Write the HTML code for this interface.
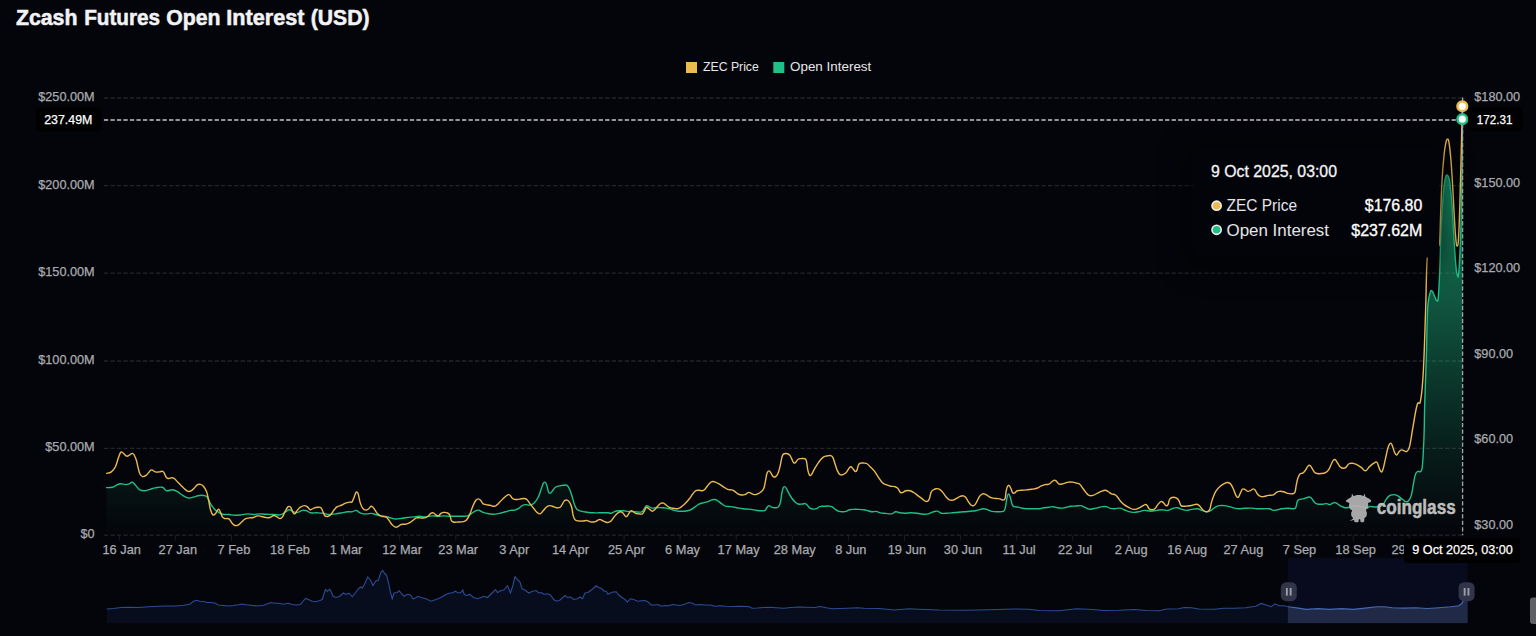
<!DOCTYPE html>
<html lang="en"><head><meta charset="utf-8"><title>Zcash Futures Open Interest (USD)</title>
<style>
html,body{margin:0;padding:0;background:#04050a;}
body{width:1536px;height:636px;overflow:hidden;position:relative;font-family:"Liberation Sans",sans-serif;}
svg{position:absolute;left:0;top:0;display:block}
text{font-family:"Liberation Sans",sans-serif;}
.ax{font-size:12.7px;fill:#a9abb0;stroke:#a9abb0;stroke-width:0.25px;}
.xl{font-size:12.8px;fill:#a9abb0;stroke:#a9abb0;stroke-width:0.25px;text-anchor:middle;}
.lg{font-size:12.3px;fill:#e6e7ea;}
.tag{font-size:13px;fill:#ffffff;stroke:#ffffff;stroke-width:0.25px;}
</style></head><body>
<svg width="1536" height="636" viewBox="0 0 1536 636">
<defs>
<linearGradient id="ga" gradientUnits="userSpaceOnUse" x1="0" y1="119" x2="0" y2="535.3">
<stop offset="0" stop-color="#1fbf85" stop-opacity="0.8"/><stop offset="0.8" stop-color="#1fbf85" stop-opacity="0.125"/><stop offset="1" stop-color="#1fbf85" stop-opacity="0"/></linearGradient>
<clipPath id="selc"><rect x="1287.8" y="558" width="180" height="65.3"/></clipPath>
<clipPath id="unselc"><rect x="100" y="558" width="1187.8" height="65.3"/></clipPath>
<filter id="sh" x="-30%" y="-60%" width="160%" height="220%"><feGaussianBlur stdDeviation="14"/></filter>
</defs>
<rect width="1536" height="636" fill="#04050a"/>
<g font-size="22.4px" font-weight="700" fill="#f2f3f5" stroke="#f2f3f5" stroke-width="0.55" stroke-linejoin="round">
<text x="15.9" y="25.0" textLength="61.6" lengthAdjust="spacingAndGlyphs">Zcash</text>
<text x="84.2" y="25.0" textLength="75.9" lengthAdjust="spacingAndGlyphs">Futures</text>
<text x="166.2" y="25.0" textLength="54.3" lengthAdjust="spacingAndGlyphs">Open</text>
<text x="226.3" y="25.0" textLength="78.1" lengthAdjust="spacingAndGlyphs">Interest</text>
<text x="310.7" y="25.0" textLength="58.8" lengthAdjust="spacingAndGlyphs">(USD)</text>
</g>
<rect x="686" y="62" width="11" height="11" fill="#ecba4f"/>
<text class="lg" x="703" y="71.4" textLength="55.8" lengthAdjust="spacingAndGlyphs">ZEC Price</text>
<rect x="773.3" y="62" width="11" height="11" fill="#1fbf85"/>
<text class="lg" x="790" y="71.4" textLength="81.3" lengthAdjust="spacingAndGlyphs">Open Interest</text>
<line x1="103.9" x2="1463" y1="98.0" y2="98.0" stroke="#23252b" stroke-width="1.3" stroke-dasharray="4.3 2.2105"/>
<line x1="103.9" x2="1463" y1="185.7" y2="185.7" stroke="#23252b" stroke-width="1.3" stroke-dasharray="4.3 2.2105"/>
<line x1="103.9" x2="1463" y1="273.2" y2="273.2" stroke="#23252b" stroke-width="1.3" stroke-dasharray="4.3 2.2105"/>
<line x1="103.9" x2="1463" y1="361.0" y2="361.0" stroke="#23252b" stroke-width="1.3" stroke-dasharray="4.3 2.2105"/>
<line x1="103.9" x2="1463" y1="448.4" y2="448.4" stroke="#23252b" stroke-width="1.3" stroke-dasharray="4.3 2.2105"/>
<line x1="103.9" x2="1463" y1="535.2" y2="535.2" stroke="#23252b" stroke-width="1.3" stroke-dasharray="4.3 2.2105"/>
<text class="ax" x="94.7" y="101.0" text-anchor="end">$250.00M</text>
<text class="ax" x="94.7" y="188.6" text-anchor="end">$200.00M</text>
<text class="ax" x="94.7" y="276.1" text-anchor="end">$150.00M</text>
<text class="ax" x="94.7" y="363.9" text-anchor="end">$100.00M</text>
<text class="ax" x="94.7" y="451.3" text-anchor="end">$50.00M</text>
<text class="ax" x="94.7" y="538.1" text-anchor="end">$0</text>
<text class="ax" x="1474.3" y="101.3">$180.00</text>
<text class="ax" x="1474.3" y="186.8">$150.00</text>
<text class="ax" x="1474.3" y="272.3">$120.00</text>
<text class="ax" x="1474.3" y="357.8">$90.00</text>
<text class="ax" x="1474.3" y="443.3">$60.00</text>
<text class="ax" x="1474.3" y="528.8">$30.00</text>
<line x1="119.3" x2="119.3" y1="535.3" y2="540.6" stroke="#1b1d23" stroke-width="1"/>
<text class="xl" x="121.7" y="554.4">16 Jan</text>
<line x1="175.4" x2="175.4" y1="535.3" y2="540.6" stroke="#1b1d23" stroke-width="1"/>
<text class="xl" x="177.8" y="554.4">27 Jan</text>
<line x1="231.5" x2="231.5" y1="535.3" y2="540.6" stroke="#1b1d23" stroke-width="1"/>
<text class="xl" x="233.9" y="554.4">7 Feb</text>
<line x1="287.6" x2="287.6" y1="535.3" y2="540.6" stroke="#1b1d23" stroke-width="1"/>
<text class="xl" x="290.0" y="554.4">18 Feb</text>
<line x1="343.6" x2="343.6" y1="535.3" y2="540.6" stroke="#1b1d23" stroke-width="1"/>
<text class="xl" x="346.0" y="554.4">1 Mar</text>
<line x1="399.7" x2="399.7" y1="535.3" y2="540.6" stroke="#1b1d23" stroke-width="1"/>
<text class="xl" x="402.1" y="554.4">12 Mar</text>
<line x1="455.8" x2="455.8" y1="535.3" y2="540.6" stroke="#1b1d23" stroke-width="1"/>
<text class="xl" x="458.2" y="554.4">23 Mar</text>
<line x1="511.9" x2="511.9" y1="535.3" y2="540.6" stroke="#1b1d23" stroke-width="1"/>
<text class="xl" x="514.3" y="554.4">3 Apr</text>
<line x1="568.0" x2="568.0" y1="535.3" y2="540.6" stroke="#1b1d23" stroke-width="1"/>
<text class="xl" x="570.4" y="554.4">14 Apr</text>
<line x1="624.1" x2="624.1" y1="535.3" y2="540.6" stroke="#1b1d23" stroke-width="1"/>
<text class="xl" x="626.5" y="554.4">25 Apr</text>
<line x1="680.1" x2="680.1" y1="535.3" y2="540.6" stroke="#1b1d23" stroke-width="1"/>
<text class="xl" x="682.5" y="554.4">6 May</text>
<line x1="736.2" x2="736.2" y1="535.3" y2="540.6" stroke="#1b1d23" stroke-width="1"/>
<text class="xl" x="738.6" y="554.4">17 May</text>
<line x1="792.3" x2="792.3" y1="535.3" y2="540.6" stroke="#1b1d23" stroke-width="1"/>
<text class="xl" x="794.7" y="554.4">28 May</text>
<line x1="848.4" x2="848.4" y1="535.3" y2="540.6" stroke="#1b1d23" stroke-width="1"/>
<text class="xl" x="850.8" y="554.4">8 Jun</text>
<line x1="904.5" x2="904.5" y1="535.3" y2="540.6" stroke="#1b1d23" stroke-width="1"/>
<text class="xl" x="906.9" y="554.4">19 Jun</text>
<line x1="960.6" x2="960.6" y1="535.3" y2="540.6" stroke="#1b1d23" stroke-width="1"/>
<text class="xl" x="963.0" y="554.4">30 Jun</text>
<line x1="1016.7" x2="1016.7" y1="535.3" y2="540.6" stroke="#1b1d23" stroke-width="1"/>
<text class="xl" x="1019.1" y="554.4">11 Jul</text>
<line x1="1072.7" x2="1072.7" y1="535.3" y2="540.6" stroke="#1b1d23" stroke-width="1"/>
<text class="xl" x="1075.1" y="554.4">22 Jul</text>
<line x1="1128.8" x2="1128.8" y1="535.3" y2="540.6" stroke="#1b1d23" stroke-width="1"/>
<text class="xl" x="1131.2" y="554.4">2 Aug</text>
<line x1="1184.9" x2="1184.9" y1="535.3" y2="540.6" stroke="#1b1d23" stroke-width="1"/>
<text class="xl" x="1187.3" y="554.4">16 Aug</text>
<line x1="1241.0" x2="1241.0" y1="535.3" y2="540.6" stroke="#1b1d23" stroke-width="1"/>
<text class="xl" x="1243.4" y="554.4">27 Aug</text>
<line x1="1297.1" x2="1297.1" y1="535.3" y2="540.6" stroke="#1b1d23" stroke-width="1"/>
<text class="xl" x="1299.5" y="554.4">7 Sep</text>
<line x1="1353.2" x2="1353.2" y1="535.3" y2="540.6" stroke="#1b1d23" stroke-width="1"/>
<text class="xl" x="1355.6" y="554.4">18 Sep</text>
<line x1="1409.3" x2="1409.3" y1="535.3" y2="540.6" stroke="#1b1d23" stroke-width="1"/>
<text class="xl" x="1411.7" y="554.4">29 Sep</text>
<path d="M106.63,487.66C107.82,487.58 110.33,487.76 112.36,487.25C114.39,486.75 114.76,485.93 116.45,485.21C118.14,484.49 118.64,483.90 120.54,483.78C122.44,483.65 123.75,484.64 125.65,484.59C127.55,484.55 128.34,484.08 129.74,483.57C131.13,483.06 131.13,481.72 132.40,482.14C133.66,482.56 134.31,484.01 135.87,485.62C137.44,487.22 138.06,488.85 139.96,489.91C141.86,490.97 142.96,490.86 145.07,490.73C147.19,490.60 148.07,489.89 150.19,489.30C152.30,488.71 152.76,488.29 155.30,487.87C157.83,487.44 160.13,486.66 162.45,487.25C164.78,487.84 164.43,490.22 166.54,490.73C168.66,491.24 170.35,489.45 172.68,489.71C175.00,489.96 175.68,490.77 177.79,491.96C179.90,493.14 180.79,494.21 182.90,495.43C185.01,496.66 185.69,497.59 188.01,497.88C190.34,498.18 191.82,497.37 194.15,496.86C196.47,496.36 196.93,495.64 199.26,495.43C201.58,495.22 203.58,495.21 205.39,495.84C207.21,496.47 206.99,496.89 208.05,498.50C209.11,500.10 209.15,501.37 210.50,503.61C211.86,505.85 212.90,507.52 214.59,509.34C216.28,511.15 216.99,511.39 218.68,512.40C220.37,513.42 220.66,513.82 222.77,514.24C224.89,514.67 226.37,514.24 228.91,514.45C231.44,514.66 232.51,515.18 235.04,515.27C237.58,515.35 238.64,515.15 241.18,514.86C243.71,514.56 244.77,513.92 247.31,513.83C249.85,513.75 250.91,514.45 253.44,514.45C255.98,514.45 257.04,513.88 259.58,513.83C262.11,513.79 262.75,514.12 265.71,514.24C268.67,514.37 270.93,514.32 273.89,514.45C276.85,514.57 277.70,515.32 280.03,514.86C282.35,514.39 283.24,513.25 285.14,512.20C287.04,511.14 287.54,509.83 289.23,509.74C290.92,509.66 291.63,511.24 293.32,511.79C295.01,512.34 295.50,512.70 297.41,512.40C299.31,512.11 300.62,510.70 302.52,510.36C304.42,510.02 304.92,510.26 306.61,510.77C308.30,511.27 308.58,512.39 310.70,512.81C312.81,513.23 314.30,512.73 316.83,512.81C319.37,512.90 320.43,512.88 322.96,513.22C325.50,513.56 326.56,514.32 329.10,514.45C331.63,514.57 332.70,514.13 335.23,513.83C337.77,513.54 338.83,513.44 341.37,513.02C343.90,512.59 345.30,512.04 347.50,511.79C349.70,511.54 350.23,512.08 352.00,511.79C353.77,511.49 354.61,510.23 356.09,510.36C357.57,510.48 357.68,511.68 359.16,512.40C360.64,513.12 361.56,513.54 363.25,513.83C364.94,514.13 365.65,513.92 367.34,513.83C369.03,513.75 369.73,513.30 371.42,513.42C373.12,513.55 373.61,513.94 375.51,514.45C377.42,514.95 378.51,515.46 380.63,515.88C382.74,516.30 383.63,516.07 385.74,516.49C387.85,516.91 388.74,517.42 390.85,517.92C392.96,518.43 393.85,518.86 395.96,518.95C398.07,519.03 398.75,518.63 401.07,518.33C403.40,518.04 404.67,517.81 407.21,517.51C409.74,517.22 410.81,517.15 413.34,516.90C415.88,516.65 416.94,516.29 419.48,516.29C422.01,516.29 423.07,516.99 425.61,516.90C428.15,516.82 429.21,516.01 431.74,515.88C434.28,515.75 435.34,516.29 437.88,516.29C440.41,516.29 441.48,515.88 444.01,515.88C446.55,515.88 447.61,516.20 450.15,516.29C452.68,516.37 453.75,516.29 456.28,516.29C458.82,516.29 460.09,516.37 462.42,516.29C464.74,516.20 465.63,516.47 467.53,515.88C469.43,515.29 469.93,514.48 471.62,513.42C473.31,512.37 474.23,511.44 475.71,510.77C477.19,510.09 477.51,509.94 478.77,510.15C480.04,510.36 480.15,511.11 481.84,511.79C483.53,512.47 484.63,512.92 486.95,513.42C489.28,513.93 490.55,514.24 493.09,514.24C495.62,514.24 496.68,513.93 499.22,513.42C501.76,512.92 503.03,512.42 505.35,511.79C507.68,511.16 508.56,510.70 510.47,510.36C512.37,510.02 512.87,510.58 514.56,510.15C516.25,509.73 516.96,509.33 518.65,508.31C520.34,507.30 521.26,506.01 522.73,505.25C524.21,504.49 524.32,504.67 525.80,504.63C527.28,504.59 528.20,505.34 529.89,505.04C531.58,504.75 532.29,504.76 533.98,503.20C535.67,501.64 536.59,500.35 538.07,497.48C539.55,494.60 540.08,492.17 541.14,489.30C542.19,486.42 542.42,485.05 543.18,483.57C543.94,482.09 544.10,481.89 544.82,482.14C545.54,482.39 545.94,482.90 546.66,484.80C547.38,486.70 547.62,489.57 548.29,491.34C548.97,493.12 549.08,493.47 549.93,493.39C550.77,493.30 551.24,492.20 552.38,490.93C553.52,489.67 553.97,488.31 555.45,487.25C556.93,486.20 557.85,486.24 559.54,485.82C561.23,485.40 562.15,485.33 563.63,485.21C565.11,485.08 565.56,484.57 566.70,485.21C567.84,485.84 568.09,486.16 569.15,488.27C570.21,490.39 570.71,492.05 571.81,495.43C572.91,498.81 573.41,501.76 574.47,504.63C575.52,507.51 575.57,507.98 576.92,509.34C578.27,510.69 578.90,510.58 581.01,511.18C583.12,511.77 584.61,511.86 587.14,512.20C589.68,512.54 590.74,512.68 593.28,512.81C595.81,512.94 596.88,512.81 599.41,512.81C601.95,512.81 603.77,512.81 605.55,512.81C607.32,512.81 606.86,512.73 608.00,512.81C609.14,512.90 609.80,513.43 611.07,513.22C612.33,513.01 612.66,512.30 614.13,511.79C615.61,511.28 616.32,510.98 618.22,510.77C620.13,510.56 621.22,510.64 623.34,510.77C625.45,510.89 626.12,511.17 628.45,511.38C630.77,511.59 631.83,511.70 634.58,511.79C637.33,511.87 639.71,512.51 641.74,511.79C643.77,511.07 643.42,509.58 644.40,508.31C645.37,507.05 645.51,505.99 646.44,505.65C647.37,505.32 647.75,506.17 648.89,506.68C650.04,507.18 650.27,507.90 651.96,508.11C653.65,508.32 654.75,507.78 657.07,507.70C659.40,507.62 660.67,507.49 663.21,507.70C665.74,507.91 667.23,508.21 669.34,508.72C671.45,509.23 671.53,509.65 673.43,510.15C675.33,510.66 676.22,510.96 678.54,511.18C680.87,511.39 682.35,511.39 684.68,511.18C687.00,510.96 687.89,510.87 689.79,510.15C691.69,509.43 691.98,508.97 693.88,507.70C695.78,506.43 696.88,505.08 698.99,504.02C701.10,502.96 702.20,503.09 704.10,502.59C706.00,502.08 706.59,502.11 708.19,501.57C709.80,501.02 710.60,500.35 711.87,499.93C713.14,499.51 713.18,499.39 714.33,499.52C715.47,499.65 715.91,499.70 717.39,500.54C718.87,501.39 719.79,502.47 721.48,503.61C723.17,504.75 723.67,505.43 725.57,506.06C727.47,506.70 728.36,506.34 730.68,506.68C733.01,507.02 734.28,507.28 736.82,507.70C739.35,508.12 740.42,508.43 742.95,508.72C745.49,509.02 746.55,508.84 749.09,509.13C751.62,509.43 752.68,509.82 755.22,510.15C757.76,510.49 759.33,510.72 761.35,510.77C763.38,510.81 763.85,511.08 765.04,510.36C766.22,509.64 766.23,508.26 767.08,507.29C767.93,506.32 768.19,505.70 769.12,505.65C770.05,505.61 770.44,506.66 771.58,507.09C772.72,507.51 773.29,507.70 774.65,507.70C776.00,507.70 776.94,508.14 778.12,507.09C779.30,506.03 779.61,505.42 780.37,502.59C781.13,499.76 781.25,496.34 781.80,493.39C782.35,490.43 782.48,489.67 783.03,488.27C783.58,486.88 783.78,486.64 784.46,486.64C785.14,486.64 785.37,486.88 786.30,488.27C787.23,489.67 787.78,491.27 788.96,493.39C790.14,495.50 790.76,496.72 792.03,498.50C793.29,500.27 793.82,500.83 795.09,501.97C796.36,503.12 796.68,503.60 798.16,504.02C799.64,504.44 800.77,504.10 802.25,504.02C803.73,503.93 804.26,503.36 805.32,503.61C806.37,503.86 806.39,504.32 807.36,505.25C808.33,506.18 808.75,507.31 810.02,508.11C811.29,508.91 812.14,509.00 813.50,509.13C814.85,509.26 815.29,509.23 816.56,508.72C817.83,508.21 818.15,507.18 819.63,506.68C821.11,506.17 821.82,506.40 823.72,506.27C825.62,506.14 827.14,505.98 828.83,506.06C830.52,506.15 830.63,506.04 831.90,506.68C833.17,507.31 833.49,508.16 834.96,509.13C836.44,510.10 837.36,510.83 839.05,511.38C840.74,511.93 841.66,511.79 843.14,511.79C844.62,511.79 844.94,511.80 846.21,511.38C847.48,510.96 847.80,510.17 849.28,509.74C850.76,509.32 851.47,509.42 853.37,509.34C855.27,509.25 856.28,509.25 858.48,509.34C860.68,509.42 862.01,509.45 864.00,509.74C865.99,510.04 866.40,510.34 868.09,510.77C869.78,511.19 870.49,511.66 872.18,511.79C873.87,511.92 874.58,511.17 876.27,511.38C877.96,511.59 878.46,512.39 880.36,512.81C882.26,513.23 883.15,513.21 885.47,513.42C887.79,513.64 889.49,514.17 891.60,513.83C893.72,513.50 894.00,512.00 895.69,511.79C897.38,511.58 897.88,512.52 899.78,512.81C901.68,513.11 902.57,513.22 904.89,513.22C907.22,513.22 908.49,512.81 911.03,512.81C913.56,512.81 914.63,512.92 917.16,513.22C919.70,513.52 920.97,514.12 923.30,514.24C925.62,514.37 926.30,514.34 928.41,513.83C930.52,513.33 931.62,512.34 933.52,511.79C935.42,511.24 936.00,510.88 937.61,511.18C939.22,511.47 939.60,512.80 941.29,513.22C942.98,513.64 943.59,513.30 945.79,513.22C947.99,513.14 949.39,513.02 951.92,512.81C954.46,512.60 955.52,512.41 958.06,512.20C960.59,511.99 961.66,512.00 964.19,511.79C966.73,511.58 968.00,511.39 970.33,511.18C972.65,510.96 973.32,511.15 975.44,510.77C977.55,510.39 978.86,509.76 980.55,509.34C982.24,508.91 982.35,508.72 983.62,508.72C984.88,508.72 984.99,508.79 986.68,509.34C988.37,509.88 989.47,510.87 991.80,511.38C994.12,511.89 995.61,511.79 997.93,511.79C1000.25,511.79 1001.56,512.01 1003.04,511.38C1004.52,510.75 1004.37,510.96 1005.09,508.72C1005.80,506.48 1005.97,503.37 1006.52,500.54C1007.07,497.71 1007.20,496.29 1007.74,495.02C1008.29,493.75 1008.58,493.69 1009.18,494.41C1009.77,495.13 1009.97,496.39 1010.61,498.50C1011.24,500.61 1011.48,502.94 1012.24,504.63C1013.00,506.32 1013.02,506.17 1014.29,506.68C1015.56,507.18 1016.69,506.75 1018.38,507.09C1020.07,507.42 1020.56,507.98 1022.47,508.31C1024.37,508.65 1025.25,508.64 1027.58,508.72C1029.90,508.81 1031.18,508.72 1033.71,508.72C1036.25,508.72 1037.73,508.93 1039.85,508.72C1041.96,508.51 1042.03,508.00 1043.94,507.70C1045.84,507.40 1047.15,507.50 1049.05,507.29C1050.95,507.08 1051.45,506.59 1053.14,506.68C1054.83,506.76 1055.33,507.40 1057.23,507.70C1059.13,508.00 1060.44,508.19 1062.34,508.11C1064.24,508.02 1064.74,507.67 1066.43,507.29C1068.12,506.91 1068.62,506.52 1070.52,506.27C1072.42,506.01 1073.52,506.19 1075.63,506.06C1077.74,505.94 1078.84,505.40 1080.74,505.65C1082.64,505.91 1083.14,506.57 1084.83,507.29C1086.52,508.01 1087.23,508.84 1088.92,509.13C1090.61,509.43 1091.11,509.02 1093.01,508.72C1094.91,508.43 1096.22,508.12 1098.12,507.70C1100.02,507.28 1100.52,506.89 1102.21,506.68C1103.90,506.47 1104.61,506.34 1106.30,506.68C1107.99,507.02 1108.70,507.89 1110.39,508.31C1112.08,508.74 1112.49,508.76 1114.48,508.72C1116.47,508.68 1118.01,507.90 1120.00,508.11C1121.99,508.32 1122.40,509.07 1124.09,509.74C1125.78,510.42 1126.28,510.83 1128.18,511.38C1130.08,511.93 1131.18,512.32 1133.29,512.40C1135.40,512.49 1136.08,512.21 1138.40,511.79C1140.73,511.37 1142.00,510.48 1144.54,510.36C1147.07,510.23 1148.14,511.18 1150.67,511.18C1153.21,511.18 1154.48,510.65 1156.81,510.36C1159.13,510.06 1159.59,509.74 1161.92,509.74C1164.24,509.74 1165.73,510.65 1168.05,510.36C1170.38,510.06 1171.26,508.86 1173.16,508.31C1175.06,507.76 1175.56,507.53 1177.25,507.70C1178.94,507.87 1179.44,508.58 1181.34,509.13C1183.24,509.68 1184.34,510.32 1186.45,510.36C1188.57,510.40 1189.24,509.67 1191.57,509.34C1193.89,509.00 1195.59,508.51 1197.70,508.72C1199.81,508.93 1199.89,509.72 1201.79,510.36C1203.69,510.99 1205.00,511.79 1206.90,511.79C1208.80,511.79 1209.30,511.29 1210.99,510.36C1212.68,509.43 1213.39,508.26 1215.08,507.29C1216.77,506.32 1217.27,505.99 1219.17,505.65C1221.07,505.32 1222.17,505.44 1224.28,505.65C1226.39,505.87 1227.28,506.17 1229.39,506.68C1231.51,507.18 1232.60,507.69 1234.50,508.11C1236.41,508.53 1236.48,508.68 1238.59,508.72C1240.71,508.76 1242.19,508.44 1244.73,508.31C1247.26,508.19 1248.33,508.02 1250.86,508.11C1253.40,508.19 1254.46,508.60 1257.00,508.72C1259.53,508.85 1260.60,508.72 1263.13,508.72C1265.67,508.72 1267.15,508.38 1269.27,508.72C1271.38,509.06 1271.66,510.15 1273.35,510.36C1275.04,510.57 1275.75,510.08 1277.44,509.74C1279.13,509.41 1279.42,509.02 1281.53,508.72C1283.65,508.43 1285.13,508.31 1287.67,508.31C1290.20,508.31 1292.11,508.93 1293.80,508.72C1295.49,508.51 1295.13,508.77 1295.85,507.29C1296.57,505.81 1296.64,503.17 1297.28,501.57C1297.91,499.96 1297.73,500.07 1298.91,499.52C1300.10,498.97 1301.31,499.33 1303.00,498.91C1304.69,498.48 1305.61,497.86 1307.09,497.48C1308.57,497.10 1309.10,496.73 1310.16,497.07C1311.22,497.41 1311.36,498.10 1312.20,499.11C1313.05,500.13 1313.19,500.96 1314.25,501.97C1315.31,502.99 1315.63,503.55 1317.32,504.02C1319.01,504.48 1320.53,504.31 1322.43,504.22C1324.33,504.14 1325.04,503.53 1326.52,503.61C1328.00,503.69 1328.32,504.72 1329.58,504.63C1330.85,504.55 1331.51,503.62 1332.65,503.20C1333.79,502.78 1334.05,502.42 1335.11,502.59C1336.16,502.76 1336.58,503.30 1337.76,504.02C1338.95,504.74 1339.35,505.30 1340.83,506.06C1342.31,506.82 1343.23,507.45 1344.92,507.70C1346.61,507.95 1347.32,507.63 1349.01,507.29C1350.70,506.95 1351.41,506.40 1353.10,506.06C1354.79,505.73 1355.50,505.53 1357.19,505.65C1358.88,505.78 1359.59,506.25 1361.28,506.68C1362.97,507.10 1363.89,507.53 1365.37,507.70C1366.85,507.87 1367.48,507.76 1368.43,507.50C1369.39,507.23 1368.46,506.53 1370.00,506.43C1371.54,506.33 1373.66,507.02 1375.89,507.02C1378.13,507.02 1379.18,507.16 1380.80,506.43C1382.43,505.70 1382.53,505.11 1383.75,503.48C1384.97,501.86 1385.48,500.20 1386.70,498.57C1387.91,496.95 1388.22,496.44 1389.64,495.62C1391.06,494.81 1391.95,494.64 1393.57,494.64C1395.20,494.64 1395.88,494.81 1397.50,495.62C1399.12,496.44 1399.80,497.35 1401.43,498.57C1403.05,499.79 1403.94,501.03 1405.36,501.52C1406.78,502.00 1407.09,502.15 1408.30,500.93C1409.52,499.71 1410.15,499.36 1411.25,495.62C1412.35,491.89 1412.71,487.32 1413.61,482.86C1414.50,478.39 1414.64,476.37 1415.57,474.02C1416.51,471.66 1417.07,471.99 1418.12,471.46C1419.18,470.94 1419.83,472.36 1420.68,471.46C1421.53,470.57 1421.68,471.69 1422.25,467.14C1422.82,462.60 1423.02,457.18 1423.43,449.46C1423.83,441.75 1423.95,439.01 1424.21,429.82C1424.48,420.63 1424.27,419.84 1424.70,405.00C1425.13,390.16 1425.70,377.63 1426.30,358.00C1426.90,338.37 1426.88,323.23 1427.60,310.00C1428.32,296.77 1428.89,297.97 1429.80,294.00C1430.71,290.03 1430.95,290.18 1432.00,290.80C1433.05,291.42 1433.89,294.95 1434.90,297.00C1435.91,299.05 1436.20,300.70 1436.90,300.70C1437.60,300.70 1437.72,303.03 1438.30,297.00C1438.88,290.97 1439.12,285.55 1439.70,271.50C1440.28,257.45 1440.34,245.37 1441.10,229.00C1441.86,212.63 1442.51,202.84 1443.40,192.30C1444.29,181.76 1444.57,181.51 1445.40,178.00C1446.23,174.49 1446.53,174.68 1447.40,175.30C1448.27,175.92 1448.67,175.15 1449.60,181.00C1450.53,186.85 1451.01,191.92 1451.90,203.60C1452.79,215.28 1453.07,224.62 1453.90,237.50C1454.73,250.38 1455.16,257.98 1455.90,265.90C1456.64,273.82 1456.92,274.33 1457.50,275.80C1458.08,277.27 1458.16,278.56 1458.70,273.00C1459.24,267.44 1459.58,260.89 1460.10,248.90C1460.62,236.91 1460.79,233.79 1461.20,215.00C1461.61,196.21 1461.83,177.84 1462.10,158.00C1462.37,138.16 1462.42,127.06 1462.50,119.00L1462.50,535.3L106.63,535.3Z" fill="url(#ga)"/>
<path d="M106.63,487.66C107.82,487.58 110.33,487.76 112.36,487.25C114.39,486.75 114.76,485.93 116.45,485.21C118.14,484.49 118.64,483.90 120.54,483.78C122.44,483.65 123.75,484.64 125.65,484.59C127.55,484.55 128.34,484.08 129.74,483.57C131.13,483.06 131.13,481.72 132.40,482.14C133.66,482.56 134.31,484.01 135.87,485.62C137.44,487.22 138.06,488.85 139.96,489.91C141.86,490.97 142.96,490.86 145.07,490.73C147.19,490.60 148.07,489.89 150.19,489.30C152.30,488.71 152.76,488.29 155.30,487.87C157.83,487.44 160.13,486.66 162.45,487.25C164.78,487.84 164.43,490.22 166.54,490.73C168.66,491.24 170.35,489.45 172.68,489.71C175.00,489.96 175.68,490.77 177.79,491.96C179.90,493.14 180.79,494.21 182.90,495.43C185.01,496.66 185.69,497.59 188.01,497.88C190.34,498.18 191.82,497.37 194.15,496.86C196.47,496.36 196.93,495.64 199.26,495.43C201.58,495.22 203.58,495.21 205.39,495.84C207.21,496.47 206.99,496.89 208.05,498.50C209.11,500.10 209.15,501.37 210.50,503.61C211.86,505.85 212.90,507.52 214.59,509.34C216.28,511.15 216.99,511.39 218.68,512.40C220.37,513.42 220.66,513.82 222.77,514.24C224.89,514.67 226.37,514.24 228.91,514.45C231.44,514.66 232.51,515.18 235.04,515.27C237.58,515.35 238.64,515.15 241.18,514.86C243.71,514.56 244.77,513.92 247.31,513.83C249.85,513.75 250.91,514.45 253.44,514.45C255.98,514.45 257.04,513.88 259.58,513.83C262.11,513.79 262.75,514.12 265.71,514.24C268.67,514.37 270.93,514.32 273.89,514.45C276.85,514.57 277.70,515.32 280.03,514.86C282.35,514.39 283.24,513.25 285.14,512.20C287.04,511.14 287.54,509.83 289.23,509.74C290.92,509.66 291.63,511.24 293.32,511.79C295.01,512.34 295.50,512.70 297.41,512.40C299.31,512.11 300.62,510.70 302.52,510.36C304.42,510.02 304.92,510.26 306.61,510.77C308.30,511.27 308.58,512.39 310.70,512.81C312.81,513.23 314.30,512.73 316.83,512.81C319.37,512.90 320.43,512.88 322.96,513.22C325.50,513.56 326.56,514.32 329.10,514.45C331.63,514.57 332.70,514.13 335.23,513.83C337.77,513.54 338.83,513.44 341.37,513.02C343.90,512.59 345.30,512.04 347.50,511.79C349.70,511.54 350.23,512.08 352.00,511.79C353.77,511.49 354.61,510.23 356.09,510.36C357.57,510.48 357.68,511.68 359.16,512.40C360.64,513.12 361.56,513.54 363.25,513.83C364.94,514.13 365.65,513.92 367.34,513.83C369.03,513.75 369.73,513.30 371.42,513.42C373.12,513.55 373.61,513.94 375.51,514.45C377.42,514.95 378.51,515.46 380.63,515.88C382.74,516.30 383.63,516.07 385.74,516.49C387.85,516.91 388.74,517.42 390.85,517.92C392.96,518.43 393.85,518.86 395.96,518.95C398.07,519.03 398.75,518.63 401.07,518.33C403.40,518.04 404.67,517.81 407.21,517.51C409.74,517.22 410.81,517.15 413.34,516.90C415.88,516.65 416.94,516.29 419.48,516.29C422.01,516.29 423.07,516.99 425.61,516.90C428.15,516.82 429.21,516.01 431.74,515.88C434.28,515.75 435.34,516.29 437.88,516.29C440.41,516.29 441.48,515.88 444.01,515.88C446.55,515.88 447.61,516.20 450.15,516.29C452.68,516.37 453.75,516.29 456.28,516.29C458.82,516.29 460.09,516.37 462.42,516.29C464.74,516.20 465.63,516.47 467.53,515.88C469.43,515.29 469.93,514.48 471.62,513.42C473.31,512.37 474.23,511.44 475.71,510.77C477.19,510.09 477.51,509.94 478.77,510.15C480.04,510.36 480.15,511.11 481.84,511.79C483.53,512.47 484.63,512.92 486.95,513.42C489.28,513.93 490.55,514.24 493.09,514.24C495.62,514.24 496.68,513.93 499.22,513.42C501.76,512.92 503.03,512.42 505.35,511.79C507.68,511.16 508.56,510.70 510.47,510.36C512.37,510.02 512.87,510.58 514.56,510.15C516.25,509.73 516.96,509.33 518.65,508.31C520.34,507.30 521.26,506.01 522.73,505.25C524.21,504.49 524.32,504.67 525.80,504.63C527.28,504.59 528.20,505.34 529.89,505.04C531.58,504.75 532.29,504.76 533.98,503.20C535.67,501.64 536.59,500.35 538.07,497.48C539.55,494.60 540.08,492.17 541.14,489.30C542.19,486.42 542.42,485.05 543.18,483.57C543.94,482.09 544.10,481.89 544.82,482.14C545.54,482.39 545.94,482.90 546.66,484.80C547.38,486.70 547.62,489.57 548.29,491.34C548.97,493.12 549.08,493.47 549.93,493.39C550.77,493.30 551.24,492.20 552.38,490.93C553.52,489.67 553.97,488.31 555.45,487.25C556.93,486.20 557.85,486.24 559.54,485.82C561.23,485.40 562.15,485.33 563.63,485.21C565.11,485.08 565.56,484.57 566.70,485.21C567.84,485.84 568.09,486.16 569.15,488.27C570.21,490.39 570.71,492.05 571.81,495.43C572.91,498.81 573.41,501.76 574.47,504.63C575.52,507.51 575.57,507.98 576.92,509.34C578.27,510.69 578.90,510.58 581.01,511.18C583.12,511.77 584.61,511.86 587.14,512.20C589.68,512.54 590.74,512.68 593.28,512.81C595.81,512.94 596.88,512.81 599.41,512.81C601.95,512.81 603.77,512.81 605.55,512.81C607.32,512.81 606.86,512.73 608.00,512.81C609.14,512.90 609.80,513.43 611.07,513.22C612.33,513.01 612.66,512.30 614.13,511.79C615.61,511.28 616.32,510.98 618.22,510.77C620.13,510.56 621.22,510.64 623.34,510.77C625.45,510.89 626.12,511.17 628.45,511.38C630.77,511.59 631.83,511.70 634.58,511.79C637.33,511.87 639.71,512.51 641.74,511.79C643.77,511.07 643.42,509.58 644.40,508.31C645.37,507.05 645.51,505.99 646.44,505.65C647.37,505.32 647.75,506.17 648.89,506.68C650.04,507.18 650.27,507.90 651.96,508.11C653.65,508.32 654.75,507.78 657.07,507.70C659.40,507.62 660.67,507.49 663.21,507.70C665.74,507.91 667.23,508.21 669.34,508.72C671.45,509.23 671.53,509.65 673.43,510.15C675.33,510.66 676.22,510.96 678.54,511.18C680.87,511.39 682.35,511.39 684.68,511.18C687.00,510.96 687.89,510.87 689.79,510.15C691.69,509.43 691.98,508.97 693.88,507.70C695.78,506.43 696.88,505.08 698.99,504.02C701.10,502.96 702.20,503.09 704.10,502.59C706.00,502.08 706.59,502.11 708.19,501.57C709.80,501.02 710.60,500.35 711.87,499.93C713.14,499.51 713.18,499.39 714.33,499.52C715.47,499.65 715.91,499.70 717.39,500.54C718.87,501.39 719.79,502.47 721.48,503.61C723.17,504.75 723.67,505.43 725.57,506.06C727.47,506.70 728.36,506.34 730.68,506.68C733.01,507.02 734.28,507.28 736.82,507.70C739.35,508.12 740.42,508.43 742.95,508.72C745.49,509.02 746.55,508.84 749.09,509.13C751.62,509.43 752.68,509.82 755.22,510.15C757.76,510.49 759.33,510.72 761.35,510.77C763.38,510.81 763.85,511.08 765.04,510.36C766.22,509.64 766.23,508.26 767.08,507.29C767.93,506.32 768.19,505.70 769.12,505.65C770.05,505.61 770.44,506.66 771.58,507.09C772.72,507.51 773.29,507.70 774.65,507.70C776.00,507.70 776.94,508.14 778.12,507.09C779.30,506.03 779.61,505.42 780.37,502.59C781.13,499.76 781.25,496.34 781.80,493.39C782.35,490.43 782.48,489.67 783.03,488.27C783.58,486.88 783.78,486.64 784.46,486.64C785.14,486.64 785.37,486.88 786.30,488.27C787.23,489.67 787.78,491.27 788.96,493.39C790.14,495.50 790.76,496.72 792.03,498.50C793.29,500.27 793.82,500.83 795.09,501.97C796.36,503.12 796.68,503.60 798.16,504.02C799.64,504.44 800.77,504.10 802.25,504.02C803.73,503.93 804.26,503.36 805.32,503.61C806.37,503.86 806.39,504.32 807.36,505.25C808.33,506.18 808.75,507.31 810.02,508.11C811.29,508.91 812.14,509.00 813.50,509.13C814.85,509.26 815.29,509.23 816.56,508.72C817.83,508.21 818.15,507.18 819.63,506.68C821.11,506.17 821.82,506.40 823.72,506.27C825.62,506.14 827.14,505.98 828.83,506.06C830.52,506.15 830.63,506.04 831.90,506.68C833.17,507.31 833.49,508.16 834.96,509.13C836.44,510.10 837.36,510.83 839.05,511.38C840.74,511.93 841.66,511.79 843.14,511.79C844.62,511.79 844.94,511.80 846.21,511.38C847.48,510.96 847.80,510.17 849.28,509.74C850.76,509.32 851.47,509.42 853.37,509.34C855.27,509.25 856.28,509.25 858.48,509.34C860.68,509.42 862.01,509.45 864.00,509.74C865.99,510.04 866.40,510.34 868.09,510.77C869.78,511.19 870.49,511.66 872.18,511.79C873.87,511.92 874.58,511.17 876.27,511.38C877.96,511.59 878.46,512.39 880.36,512.81C882.26,513.23 883.15,513.21 885.47,513.42C887.79,513.64 889.49,514.17 891.60,513.83C893.72,513.50 894.00,512.00 895.69,511.79C897.38,511.58 897.88,512.52 899.78,512.81C901.68,513.11 902.57,513.22 904.89,513.22C907.22,513.22 908.49,512.81 911.03,512.81C913.56,512.81 914.63,512.92 917.16,513.22C919.70,513.52 920.97,514.12 923.30,514.24C925.62,514.37 926.30,514.34 928.41,513.83C930.52,513.33 931.62,512.34 933.52,511.79C935.42,511.24 936.00,510.88 937.61,511.18C939.22,511.47 939.60,512.80 941.29,513.22C942.98,513.64 943.59,513.30 945.79,513.22C947.99,513.14 949.39,513.02 951.92,512.81C954.46,512.60 955.52,512.41 958.06,512.20C960.59,511.99 961.66,512.00 964.19,511.79C966.73,511.58 968.00,511.39 970.33,511.18C972.65,510.96 973.32,511.15 975.44,510.77C977.55,510.39 978.86,509.76 980.55,509.34C982.24,508.91 982.35,508.72 983.62,508.72C984.88,508.72 984.99,508.79 986.68,509.34C988.37,509.88 989.47,510.87 991.80,511.38C994.12,511.89 995.61,511.79 997.93,511.79C1000.25,511.79 1001.56,512.01 1003.04,511.38C1004.52,510.75 1004.37,510.96 1005.09,508.72C1005.80,506.48 1005.97,503.37 1006.52,500.54C1007.07,497.71 1007.20,496.29 1007.74,495.02C1008.29,493.75 1008.58,493.69 1009.18,494.41C1009.77,495.13 1009.97,496.39 1010.61,498.50C1011.24,500.61 1011.48,502.94 1012.24,504.63C1013.00,506.32 1013.02,506.17 1014.29,506.68C1015.56,507.18 1016.69,506.75 1018.38,507.09C1020.07,507.42 1020.56,507.98 1022.47,508.31C1024.37,508.65 1025.25,508.64 1027.58,508.72C1029.90,508.81 1031.18,508.72 1033.71,508.72C1036.25,508.72 1037.73,508.93 1039.85,508.72C1041.96,508.51 1042.03,508.00 1043.94,507.70C1045.84,507.40 1047.15,507.50 1049.05,507.29C1050.95,507.08 1051.45,506.59 1053.14,506.68C1054.83,506.76 1055.33,507.40 1057.23,507.70C1059.13,508.00 1060.44,508.19 1062.34,508.11C1064.24,508.02 1064.74,507.67 1066.43,507.29C1068.12,506.91 1068.62,506.52 1070.52,506.27C1072.42,506.01 1073.52,506.19 1075.63,506.06C1077.74,505.94 1078.84,505.40 1080.74,505.65C1082.64,505.91 1083.14,506.57 1084.83,507.29C1086.52,508.01 1087.23,508.84 1088.92,509.13C1090.61,509.43 1091.11,509.02 1093.01,508.72C1094.91,508.43 1096.22,508.12 1098.12,507.70C1100.02,507.28 1100.52,506.89 1102.21,506.68C1103.90,506.47 1104.61,506.34 1106.30,506.68C1107.99,507.02 1108.70,507.89 1110.39,508.31C1112.08,508.74 1112.49,508.76 1114.48,508.72C1116.47,508.68 1118.01,507.90 1120.00,508.11C1121.99,508.32 1122.40,509.07 1124.09,509.74C1125.78,510.42 1126.28,510.83 1128.18,511.38C1130.08,511.93 1131.18,512.32 1133.29,512.40C1135.40,512.49 1136.08,512.21 1138.40,511.79C1140.73,511.37 1142.00,510.48 1144.54,510.36C1147.07,510.23 1148.14,511.18 1150.67,511.18C1153.21,511.18 1154.48,510.65 1156.81,510.36C1159.13,510.06 1159.59,509.74 1161.92,509.74C1164.24,509.74 1165.73,510.65 1168.05,510.36C1170.38,510.06 1171.26,508.86 1173.16,508.31C1175.06,507.76 1175.56,507.53 1177.25,507.70C1178.94,507.87 1179.44,508.58 1181.34,509.13C1183.24,509.68 1184.34,510.32 1186.45,510.36C1188.57,510.40 1189.24,509.67 1191.57,509.34C1193.89,509.00 1195.59,508.51 1197.70,508.72C1199.81,508.93 1199.89,509.72 1201.79,510.36C1203.69,510.99 1205.00,511.79 1206.90,511.79C1208.80,511.79 1209.30,511.29 1210.99,510.36C1212.68,509.43 1213.39,508.26 1215.08,507.29C1216.77,506.32 1217.27,505.99 1219.17,505.65C1221.07,505.32 1222.17,505.44 1224.28,505.65C1226.39,505.87 1227.28,506.17 1229.39,506.68C1231.51,507.18 1232.60,507.69 1234.50,508.11C1236.41,508.53 1236.48,508.68 1238.59,508.72C1240.71,508.76 1242.19,508.44 1244.73,508.31C1247.26,508.19 1248.33,508.02 1250.86,508.11C1253.40,508.19 1254.46,508.60 1257.00,508.72C1259.53,508.85 1260.60,508.72 1263.13,508.72C1265.67,508.72 1267.15,508.38 1269.27,508.72C1271.38,509.06 1271.66,510.15 1273.35,510.36C1275.04,510.57 1275.75,510.08 1277.44,509.74C1279.13,509.41 1279.42,509.02 1281.53,508.72C1283.65,508.43 1285.13,508.31 1287.67,508.31C1290.20,508.31 1292.11,508.93 1293.80,508.72C1295.49,508.51 1295.13,508.77 1295.85,507.29C1296.57,505.81 1296.64,503.17 1297.28,501.57C1297.91,499.96 1297.73,500.07 1298.91,499.52C1300.10,498.97 1301.31,499.33 1303.00,498.91C1304.69,498.48 1305.61,497.86 1307.09,497.48C1308.57,497.10 1309.10,496.73 1310.16,497.07C1311.22,497.41 1311.36,498.10 1312.20,499.11C1313.05,500.13 1313.19,500.96 1314.25,501.97C1315.31,502.99 1315.63,503.55 1317.32,504.02C1319.01,504.48 1320.53,504.31 1322.43,504.22C1324.33,504.14 1325.04,503.53 1326.52,503.61C1328.00,503.69 1328.32,504.72 1329.58,504.63C1330.85,504.55 1331.51,503.62 1332.65,503.20C1333.79,502.78 1334.05,502.42 1335.11,502.59C1336.16,502.76 1336.58,503.30 1337.76,504.02C1338.95,504.74 1339.35,505.30 1340.83,506.06C1342.31,506.82 1343.23,507.45 1344.92,507.70C1346.61,507.95 1347.32,507.63 1349.01,507.29C1350.70,506.95 1351.41,506.40 1353.10,506.06C1354.79,505.73 1355.50,505.53 1357.19,505.65C1358.88,505.78 1359.59,506.25 1361.28,506.68C1362.97,507.10 1363.89,507.53 1365.37,507.70C1366.85,507.87 1367.48,507.76 1368.43,507.50C1369.39,507.23 1368.46,506.53 1370.00,506.43C1371.54,506.33 1373.66,507.02 1375.89,507.02C1378.13,507.02 1379.18,507.16 1380.80,506.43C1382.43,505.70 1382.53,505.11 1383.75,503.48C1384.97,501.86 1385.48,500.20 1386.70,498.57C1387.91,496.95 1388.22,496.44 1389.64,495.62C1391.06,494.81 1391.95,494.64 1393.57,494.64C1395.20,494.64 1395.88,494.81 1397.50,495.62C1399.12,496.44 1399.80,497.35 1401.43,498.57C1403.05,499.79 1403.94,501.03 1405.36,501.52C1406.78,502.00 1407.09,502.15 1408.30,500.93C1409.52,499.71 1410.15,499.36 1411.25,495.62C1412.35,491.89 1412.71,487.32 1413.61,482.86C1414.50,478.39 1414.64,476.37 1415.57,474.02C1416.51,471.66 1417.07,471.99 1418.12,471.46C1419.18,470.94 1419.83,472.36 1420.68,471.46C1421.53,470.57 1421.68,471.69 1422.25,467.14C1422.82,462.60 1423.02,457.18 1423.43,449.46C1423.83,441.75 1423.95,439.01 1424.21,429.82C1424.48,420.63 1424.27,419.84 1424.70,405.00C1425.13,390.16 1425.70,377.63 1426.30,358.00C1426.90,338.37 1426.88,323.23 1427.60,310.00C1428.32,296.77 1428.89,297.97 1429.80,294.00C1430.71,290.03 1430.95,290.18 1432.00,290.80C1433.05,291.42 1433.89,294.95 1434.90,297.00C1435.91,299.05 1436.20,300.70 1436.90,300.70C1437.60,300.70 1437.72,303.03 1438.30,297.00C1438.88,290.97 1439.12,285.55 1439.70,271.50C1440.28,257.45 1440.34,245.37 1441.10,229.00C1441.86,212.63 1442.51,202.84 1443.40,192.30C1444.29,181.76 1444.57,181.51 1445.40,178.00C1446.23,174.49 1446.53,174.68 1447.40,175.30C1448.27,175.92 1448.67,175.15 1449.60,181.00C1450.53,186.85 1451.01,191.92 1451.90,203.60C1452.79,215.28 1453.07,224.62 1453.90,237.50C1454.73,250.38 1455.16,257.98 1455.90,265.90C1456.64,273.82 1456.92,274.33 1457.50,275.80C1458.08,277.27 1458.16,278.56 1458.70,273.00C1459.24,267.44 1459.58,260.89 1460.10,248.90C1460.62,236.91 1460.79,233.79 1461.20,215.00C1461.61,196.21 1461.83,177.84 1462.10,158.00C1462.37,138.16 1462.42,127.06 1462.50,119.00" fill="none" stroke="#1fbf85" stroke-width="1.4" stroke-linejoin="round" stroke-linecap="round"/>
<path d="M106.63,473.35C107.60,473.05 109.52,473.27 111.34,471.92C113.15,470.56 113.95,469.76 115.42,466.81C116.90,463.85 117.35,460.65 118.49,457.60C119.63,454.56 119.89,452.93 120.95,452.08C122.00,451.24 122.42,452.67 123.60,453.51C124.79,454.36 125.40,455.88 126.67,456.17C127.94,456.47 128.47,455.50 129.74,454.95C131.01,454.40 131.54,452.75 132.81,453.51C134.07,454.28 134.82,455.88 135.87,458.63C136.93,461.37 137.07,463.64 137.92,466.81C138.76,469.97 138.99,471.93 139.96,473.96C140.93,475.99 141.35,476.32 142.62,476.62C143.89,476.92 144.74,476.36 146.10,475.39C147.45,474.42 148.02,473.06 149.16,471.92C150.30,470.78 150.35,469.87 151.62,469.87C152.88,469.87 153.69,471.49 155.30,471.92C156.90,472.34 157.78,472.00 159.39,471.92C160.99,471.83 161.80,470.66 163.07,471.51C164.33,472.35 164.59,474.57 165.52,476.01C166.45,477.44 166.51,478.04 167.57,478.46C168.62,478.88 169.36,478.14 170.63,478.05C171.90,477.97 172.43,477.42 173.70,478.05C174.97,478.68 175.29,479.64 176.77,481.12C178.25,482.60 179.17,483.52 180.86,485.21C182.55,486.90 183.47,488.03 184.95,489.30C186.42,490.56 186.75,491.00 188.01,491.34C189.28,491.68 189.81,491.57 191.08,490.93C192.35,490.30 192.88,489.54 194.15,488.27C195.41,487.01 195.95,485.60 197.21,484.80C198.48,484.00 199.01,484.09 200.28,484.39C201.55,484.69 202.08,484.79 203.35,486.23C204.62,487.67 205.36,488.60 206.42,491.34C207.47,494.09 207.61,495.72 208.46,499.52C209.31,503.32 209.58,506.58 210.50,509.74C211.43,512.91 211.90,514.10 212.96,514.86C214.01,515.62 214.52,514.57 215.62,513.42C216.72,512.28 217.30,509.67 218.27,509.34C219.25,509.00 219.47,510.23 220.32,511.79C221.16,513.35 221.43,515.51 222.36,516.90C223.29,518.30 223.47,518.11 224.82,518.54C226.17,518.96 227.43,518.02 228.91,518.95C230.39,519.88 230.71,521.68 231.97,523.04C233.24,524.39 233.77,525.07 235.04,525.49C236.31,525.91 236.84,525.71 238.11,525.08C239.38,524.45 239.70,523.69 241.18,522.42C242.65,521.15 243.57,519.88 245.27,518.95C246.96,518.02 247.66,518.22 249.35,517.92C251.04,517.63 251.75,517.94 253.44,517.51C255.13,517.09 255.84,516.09 257.53,515.88C259.22,515.67 259.93,516.15 261.62,516.49C263.31,516.83 264.02,517.30 265.71,517.51C267.40,517.73 268.11,517.94 269.80,517.51C271.49,517.09 272.41,515.60 273.89,515.47C275.37,515.34 275.69,516.27 276.96,516.90C278.23,517.53 278.88,518.54 280.03,518.54C281.17,518.54 281.42,518.38 282.48,516.90C283.54,515.42 283.95,513.49 285.14,511.38C286.32,509.27 287.06,507.52 288.20,506.68C289.35,505.83 289.73,506.23 290.66,507.29C291.59,508.35 291.86,510.44 292.70,511.79C293.55,513.14 293.78,514.17 294.75,513.83C295.72,513.50 296.22,511.55 297.41,510.15C298.59,508.76 298.99,508.02 300.47,507.09C301.95,506.16 303.08,505.65 304.56,505.65C306.04,505.65 306.45,506.24 307.63,507.09C308.81,507.93 309.02,509.53 310.29,509.74C311.56,509.96 312.20,508.62 313.76,508.11C315.33,507.60 316.37,507.38 317.85,507.29C319.33,507.21 319.86,506.77 320.92,507.70C321.98,508.63 322.12,510.10 322.96,511.79C323.81,513.48 323.95,514.95 325.01,515.88C326.07,516.81 326.81,516.63 328.08,516.29C329.34,515.95 329.88,515.60 331.14,514.24C332.41,512.89 332.94,511.31 334.21,509.74C335.48,508.18 335.80,507.61 337.28,506.68C338.76,505.75 339.68,505.96 341.37,505.25C343.06,504.53 343.56,503.88 345.46,503.20C347.36,502.53 349.22,502.23 350.57,501.97C351.92,501.72 351.28,502.90 352.00,501.97C352.72,501.04 353.20,499.46 354.04,497.48C354.89,495.49 355.24,493.12 356.09,492.36C356.93,491.60 357.29,491.68 358.13,493.80C358.98,495.91 359.25,499.63 360.18,502.59C361.11,505.55 361.45,506.55 362.63,508.11C363.82,509.67 364.64,510.03 365.90,510.15C367.17,510.28 367.63,509.52 368.77,508.72C369.91,507.92 370.33,506.27 371.42,506.27C372.52,506.27 372.82,507.16 374.08,508.72C375.35,510.29 376.00,512.27 377.56,513.83C379.12,515.40 379.96,515.65 381.65,516.29C383.34,516.92 384.26,516.14 385.74,516.90C387.22,517.66 387.54,518.40 388.81,519.97C390.07,521.53 390.52,522.99 391.87,524.47C393.22,525.95 393.95,526.79 395.35,527.12C396.74,527.46 397.44,526.65 398.62,526.10C399.80,525.55 399.51,524.89 401.07,524.47C402.64,524.04 404.28,524.48 406.19,524.06C408.09,523.63 408.80,523.27 410.27,522.42C411.75,521.58 412.07,520.90 413.34,519.97C414.61,519.04 414.93,518.35 416.41,517.92C417.89,517.50 418.81,517.92 420.50,517.92C422.19,517.92 423.11,518.22 424.59,517.92C426.07,517.63 426.39,517.42 427.65,516.49C428.92,515.56 429.54,514.19 430.72,513.42C431.91,512.66 432.32,512.52 433.38,512.81C434.44,513.11 434.82,514.22 435.83,514.86C436.85,515.49 437.23,516.17 438.29,515.88C439.34,515.58 439.76,514.14 440.95,513.42C442.13,512.71 442.75,512.53 444.01,512.40C445.28,512.28 445.90,512.30 447.08,512.81C448.26,513.32 448.89,513.38 449.74,514.86C450.58,516.34 450.45,518.49 451.17,519.97C451.89,521.45 451.74,521.59 453.21,522.01C454.69,522.44 456.21,522.10 458.33,522.01C460.44,521.93 461.75,522.03 463.44,521.60C465.13,521.18 465.24,521.36 466.50,519.97C467.77,518.57 468.30,517.60 469.57,514.86C470.84,512.11 471.37,509.64 472.64,506.68C473.91,503.72 474.52,502.15 475.71,500.54C476.89,498.94 477.31,498.91 478.36,498.91C479.42,498.91 479.89,499.57 480.82,500.54C481.75,501.52 481.81,502.77 482.86,503.61C483.92,504.46 484.45,504.29 485.93,504.63C487.41,504.97 488.33,504.91 490.02,505.25C491.71,505.58 492.63,506.40 494.11,506.27C495.59,506.14 495.91,505.60 497.18,504.63C498.44,503.66 498.76,503.04 500.24,501.57C501.72,500.09 502.85,498.83 504.33,497.48C505.81,496.12 506.26,495.53 507.40,495.02C508.54,494.52 508.80,494.30 509.85,495.02C510.91,495.74 511.33,497.57 512.51,498.50C513.69,499.43 514.10,499.39 515.58,499.52C517.06,499.65 517.98,499.32 519.67,499.11C521.36,498.90 522.28,498.41 523.76,498.50C525.24,498.58 525.56,498.46 526.82,499.52C528.09,500.58 528.41,501.71 529.89,503.61C531.37,505.51 532.50,506.90 533.98,508.72C535.46,510.54 535.78,511.35 537.05,512.40C538.32,513.46 538.85,514.17 540.12,513.83C541.38,513.50 541.91,512.12 543.18,510.77C544.45,509.41 544.98,508.35 546.25,507.29C547.52,506.23 548.05,505.87 549.32,505.65C550.58,505.44 550.90,505.85 552.38,506.27C553.86,506.69 554.87,507.49 556.47,507.70C558.08,507.91 558.89,508.14 560.15,507.29C561.42,506.45 561.68,505.00 562.61,503.61C563.54,502.22 563.72,501.26 564.65,500.54C565.58,499.82 566.05,499.71 567.11,500.13C568.16,500.56 568.79,501.02 569.76,502.59C570.74,504.15 571.09,504.95 571.81,507.70C572.53,510.45 572.52,513.34 573.24,515.88C573.96,518.41 574.10,518.91 575.28,519.97C576.47,521.02 577.36,520.78 578.96,520.99C580.57,521.20 581.36,521.07 583.05,520.99C584.74,520.91 585.45,520.37 587.14,520.58C588.83,520.79 589.54,521.80 591.23,522.01C592.92,522.22 593.84,522.03 595.32,521.60C596.80,521.18 597.33,520.39 598.39,519.97C599.45,519.55 599.46,519.35 600.43,519.56C601.41,519.77 602.04,520.48 603.09,520.99C604.15,521.50 604.53,521.72 605.55,522.01C606.56,522.31 606.86,522.63 608.00,522.42C609.14,522.21 609.80,522.13 611.07,520.99C612.33,519.85 612.87,518.46 614.13,516.90C615.40,515.34 615.93,514.48 617.20,513.42C618.47,512.37 619.13,511.92 620.27,511.79C621.41,511.66 621.79,512.05 622.72,512.81C623.65,513.57 623.92,514.71 624.77,515.47C625.61,516.23 625.97,516.91 626.81,516.49C627.66,516.07 628.01,514.61 628.86,513.42C629.70,512.24 630.06,511.19 630.90,510.77C631.75,510.34 631.97,510.83 632.95,511.38C633.92,511.93 634.42,512.92 635.60,513.42C636.79,513.93 637.28,513.75 638.67,513.83C640.07,513.92 641.17,514.47 642.35,513.83C643.53,513.20 643.55,512.12 644.40,510.77C645.24,509.41 645.51,507.71 646.44,507.29C647.37,506.87 647.75,507.92 648.89,508.72C650.04,509.52 650.78,510.96 651.96,511.18C653.14,511.39 653.35,510.89 654.62,509.74C655.89,508.60 656.74,507.01 658.10,505.65C659.45,504.30 660.02,503.71 661.16,503.20C662.30,502.69 662.56,502.78 663.62,503.20C664.67,503.62 665.09,504.40 666.27,505.25C667.46,506.09 667.86,506.66 669.34,507.29C670.82,507.92 671.74,508.02 673.43,508.31C675.12,508.61 676.04,508.93 677.52,508.72C679.00,508.51 679.11,508.26 680.59,507.29C682.07,506.32 682.99,505.62 684.68,504.02C686.37,502.41 687.08,501.63 688.77,499.52C690.46,497.41 691.38,495.61 692.86,493.80C694.34,491.98 694.66,491.45 695.92,490.73C697.19,490.01 697.72,490.32 698.99,490.32C700.26,490.32 700.92,490.86 702.06,490.73C703.20,490.60 703.45,490.64 704.51,489.71C705.57,488.78 705.99,487.67 707.17,486.23C708.35,484.79 709.10,483.73 710.24,482.75C711.38,481.78 711.63,481.65 712.69,481.53C713.75,481.40 713.95,481.59 715.35,482.14C716.74,482.69 717.75,483.21 719.44,484.19C721.13,485.16 721.84,485.79 723.53,486.84C725.22,487.90 725.93,488.66 727.62,489.30C729.31,489.93 730.23,489.49 731.71,489.91C733.19,490.33 733.51,490.54 734.77,491.34C736.04,492.14 736.36,493.03 737.84,493.80C739.32,494.56 740.37,494.90 741.93,495.02C743.49,495.15 744.01,494.96 745.41,494.41C746.80,493.86 747.49,492.58 748.68,492.36C749.86,492.15 749.99,492.92 751.13,493.39C752.27,493.85 752.93,494.49 754.20,494.61C755.47,494.74 755.87,494.55 757.27,494.00C758.66,493.45 759.59,493.14 760.95,491.96C762.30,490.77 762.88,490.51 763.81,488.27C764.74,486.04 764.77,484.29 765.44,481.12C766.12,477.95 766.32,475.05 767.08,472.94C767.84,470.83 768.28,470.81 769.12,470.89C769.97,470.98 770.32,472.17 771.17,473.35C772.01,474.53 772.28,475.94 773.21,476.62C774.14,477.30 774.65,477.38 775.67,476.62C776.68,475.86 777.19,475.18 778.12,472.94C779.05,470.70 779.41,468.95 780.17,465.78C780.93,462.61 781.13,460.01 781.80,457.60C782.48,455.20 782.51,454.97 783.44,454.13C784.37,453.28 785.03,453.35 786.30,453.51C787.57,453.68 788.47,453.89 789.57,454.95C790.67,456.00 790.77,457.02 791.62,458.63C792.46,460.23 792.82,461.96 793.66,462.72C794.51,463.48 794.78,463.03 795.71,462.31C796.64,461.59 797.02,460.00 798.16,459.24C799.30,458.48 799.96,458.75 801.23,458.63C802.49,458.50 803.24,458.20 804.29,458.63C805.35,459.05 805.62,458.35 806.34,460.67C807.06,463.00 807.14,466.91 807.77,469.87C808.40,472.83 808.65,474.01 809.41,474.98C810.17,475.96 810.39,475.84 811.45,474.58C812.51,473.31 813.04,471.39 814.52,468.85C816.00,466.31 816.92,464.63 818.61,462.31C820.30,459.98 821.01,458.91 822.70,457.60C824.39,456.29 825.10,456.39 826.79,455.97C828.48,455.55 829.61,455.22 830.88,455.56C832.14,455.90 832.07,455.91 832.92,457.60C833.77,459.29 834.04,460.99 834.96,463.74C835.89,466.48 836.36,468.65 837.42,470.89C838.47,473.13 838.89,473.81 840.08,474.58C841.26,475.34 841.88,475.00 843.14,474.58C844.41,474.15 845.03,473.80 846.21,472.53C847.39,471.26 847.90,469.62 848.87,468.44C849.84,467.26 850.07,466.72 850.91,466.81C851.76,466.89 852.03,467.88 852.96,468.85C853.89,469.82 854.57,471.30 855.41,471.51C856.26,471.72 856.41,471.27 857.05,469.87C857.68,468.48 857.76,466.15 858.48,464.76C859.20,463.37 859.38,463.46 860.52,463.12C861.66,462.79 862.65,463.00 864.00,463.12C865.35,463.25 865.80,462.98 867.07,463.74C868.33,464.50 868.66,465.33 870.13,466.81C871.61,468.28 872.53,468.78 874.22,470.89C875.91,473.01 876.62,474.58 878.31,477.03C880.00,479.48 880.71,481.15 882.40,482.75C884.09,484.36 884.80,484.08 886.49,484.80C888.18,485.52 888.89,485.85 890.58,486.23C892.27,486.61 893.19,486.22 894.67,486.64C896.15,487.06 896.55,487.09 897.74,488.27C898.92,489.46 899.34,491.52 900.40,492.36C901.45,493.21 901.71,492.70 902.85,492.36C903.99,492.03 904.44,491.07 905.92,490.73C907.40,490.39 908.32,490.31 910.01,490.73C911.70,491.15 912.41,491.72 914.10,492.77C915.79,493.83 916.49,494.57 918.19,495.84C919.88,497.11 920.80,497.81 922.27,498.91C923.75,500.01 924.20,500.69 925.34,501.16C926.48,501.62 926.95,501.71 927.80,501.16C928.64,500.61 928.76,500.32 929.43,498.50C930.11,496.68 930.22,494.18 931.07,492.36C931.91,490.55 932.38,490.47 933.52,489.71C934.66,488.95 935.32,488.77 936.59,488.68C937.86,488.60 938.39,488.54 939.65,489.30C940.92,490.06 941.45,490.89 942.72,492.36C943.99,493.84 944.52,494.97 945.79,496.45C947.06,497.93 947.38,498.76 948.86,499.52C950.34,500.28 951.26,500.43 952.95,500.13C954.64,499.84 955.56,498.85 957.04,498.09C958.51,497.33 958.83,496.92 960.10,496.45C961.37,495.99 961.99,495.63 963.17,495.84C964.35,496.05 964.77,496.29 965.83,497.48C966.88,498.66 967.14,499.96 968.28,501.57C969.42,503.17 970.08,504.49 971.35,505.25C972.62,506.01 973.27,506.01 974.42,505.25C975.56,504.49 975.81,503.38 976.87,501.57C977.93,499.75 978.34,498.06 979.53,496.45C980.71,494.85 981.33,494.22 982.59,493.80C983.86,493.37 984.39,493.86 985.66,494.41C986.93,494.96 987.46,495.74 988.73,496.45C990.00,497.17 990.32,497.46 991.80,497.88C993.27,498.31 994.19,498.29 995.88,498.50C997.58,498.71 998.50,498.57 999.97,498.91C1001.45,499.25 1001.99,500.22 1003.04,500.13C1004.10,500.05 1004.45,500.32 1005.09,498.50C1005.72,496.68 1005.60,493.88 1006.11,491.34C1006.62,488.81 1006.91,487.41 1007.54,486.23C1008.17,485.05 1008.50,485.19 1009.18,485.62C1009.85,486.04 1010.09,486.80 1010.81,488.27C1011.53,489.75 1011.85,491.84 1012.65,492.77C1013.45,493.70 1013.72,493.20 1014.70,492.77C1015.67,492.35 1015.96,491.24 1017.35,490.73C1018.75,490.22 1019.54,490.49 1021.44,490.32C1023.35,490.15 1024.44,490.12 1026.56,489.91C1028.67,489.70 1029.55,489.64 1031.67,489.30C1033.78,488.96 1034.88,488.91 1036.78,488.27C1038.68,487.64 1039.18,486.99 1040.87,486.23C1042.56,485.47 1043.27,485.02 1044.96,484.59C1046.65,484.17 1047.57,484.82 1049.05,484.19C1050.53,483.55 1050.97,482.37 1052.12,481.53C1053.26,480.68 1053.64,480.10 1054.57,480.10C1055.50,480.10 1055.64,480.68 1056.61,481.53C1057.59,482.37 1057.88,483.76 1059.27,484.19C1060.67,484.61 1061.46,483.99 1063.36,483.57C1065.26,483.15 1066.57,482.44 1068.47,482.14C1070.37,481.84 1070.87,481.93 1072.56,482.14C1074.25,482.35 1075.17,482.74 1076.65,483.16C1078.13,483.59 1078.45,483.13 1079.72,484.19C1080.99,485.24 1081.52,486.58 1082.79,488.27C1084.05,489.97 1084.59,490.89 1085.85,492.36C1087.12,493.84 1087.44,494.80 1088.92,495.43C1090.40,496.07 1091.32,495.85 1093.01,495.43C1094.70,495.01 1095.41,494.23 1097.10,493.39C1098.79,492.54 1099.50,491.98 1101.19,491.34C1102.88,490.71 1103.80,490.23 1105.28,490.32C1106.76,490.40 1107.08,491.03 1108.35,491.75C1109.61,492.47 1109.93,493.12 1111.41,493.80C1112.89,494.47 1114.02,494.05 1115.50,495.02C1116.98,495.99 1117.64,497.36 1118.57,498.50C1119.50,499.64 1118.86,499.28 1120.00,500.54C1121.14,501.81 1122.19,503.15 1124.09,504.63C1125.99,506.11 1127.30,506.73 1129.20,507.70C1131.10,508.67 1131.60,509.12 1133.29,509.34C1134.98,509.55 1135.69,509.27 1137.38,508.72C1139.07,508.17 1139.91,507.52 1141.47,506.68C1143.03,505.83 1143.80,504.93 1144.95,504.63C1146.09,504.34 1146.15,504.40 1146.99,505.25C1147.84,506.09 1148.06,507.79 1149.04,508.72C1150.01,509.65 1150.51,509.74 1151.69,509.74C1152.88,509.74 1153.49,509.78 1154.76,508.72C1156.03,507.67 1156.56,506.11 1157.83,504.63C1159.10,503.15 1159.75,501.99 1160.89,501.57C1162.04,501.14 1162.29,501.74 1163.35,502.59C1164.40,503.43 1165.03,505.23 1166.01,505.65C1166.98,506.08 1167.33,505.90 1168.05,504.63C1168.77,503.36 1168.64,501.00 1169.48,499.52C1170.33,498.04 1170.75,497.81 1172.14,497.48C1173.54,497.14 1174.84,497.25 1176.23,497.88C1177.62,498.52 1177.96,499.02 1178.89,500.54C1179.82,502.06 1179.80,504.06 1180.73,505.25C1181.66,506.43 1181.99,506.10 1183.39,506.27C1184.78,506.44 1185.57,506.28 1187.48,506.06C1189.38,505.85 1190.69,505.63 1192.59,505.25C1194.49,504.87 1195.28,504.14 1196.68,504.22C1198.07,504.31 1198.28,504.73 1199.34,505.65C1200.39,506.58 1200.65,507.54 1201.79,508.72C1202.93,509.91 1203.59,510.83 1204.86,511.38C1206.12,511.93 1206.87,511.93 1207.92,511.38C1208.98,510.83 1209.25,510.54 1209.97,508.72C1210.69,506.90 1210.68,505.12 1211.40,502.59C1212.12,500.05 1212.47,498.86 1213.44,496.45C1214.42,494.04 1214.71,493.05 1216.10,490.93C1217.50,488.82 1218.50,487.75 1220.19,486.23C1221.88,484.71 1222.68,484.33 1224.28,483.57C1225.89,482.81 1226.61,482.42 1227.96,482.55C1229.31,482.68 1229.68,482.79 1230.82,484.19C1231.97,485.58 1232.43,486.97 1233.48,489.30C1234.54,491.62 1234.96,493.74 1235.94,495.43C1236.91,497.12 1237.30,497.90 1238.19,497.48C1239.07,497.05 1239.38,495.08 1240.23,493.39C1241.08,491.70 1241.35,490.14 1242.27,489.30C1243.20,488.45 1243.59,488.87 1244.73,489.30C1245.87,489.72 1246.53,491.13 1247.80,491.34C1249.06,491.55 1249.72,490.83 1250.86,490.32C1252.00,489.81 1252.39,488.89 1253.32,488.89C1254.25,488.89 1254.52,489.26 1255.36,490.32C1256.21,491.38 1256.31,492.73 1257.41,494.00C1258.50,495.27 1259.28,495.95 1260.68,496.45C1262.07,496.96 1262.59,496.66 1264.15,496.45C1265.72,496.24 1266.34,495.77 1268.24,495.43C1270.14,495.09 1271.66,495.45 1273.35,494.82C1275.04,494.18 1275.15,493.08 1276.42,492.36C1277.69,491.65 1278.01,491.47 1279.49,491.34C1280.97,491.22 1281.89,491.33 1283.58,491.75C1285.27,492.17 1285.98,492.96 1287.67,493.39C1289.36,493.81 1290.28,494.01 1291.76,493.80C1293.24,493.58 1293.89,494.14 1294.82,492.36C1295.75,490.59 1295.62,488.17 1296.26,485.21C1296.89,482.25 1297.13,480.38 1297.89,478.05C1298.65,475.73 1298.88,475.02 1299.94,473.96C1300.99,472.91 1301.82,473.78 1303.00,472.94C1304.19,472.09 1304.69,471.22 1305.66,469.87C1306.63,468.52 1306.86,467.33 1307.71,466.40C1308.55,465.47 1308.91,465.08 1309.75,465.37C1310.60,465.67 1310.87,466.48 1311.80,467.83C1312.73,469.18 1313.11,470.73 1314.25,471.92C1315.39,473.10 1315.84,473.21 1317.32,473.55C1318.80,473.89 1319.72,473.76 1321.41,473.55C1323.10,473.34 1324.02,473.29 1325.50,472.53C1326.97,471.77 1327.42,471.48 1328.56,469.87C1329.70,468.27 1330.09,466.66 1331.02,464.76C1331.95,462.86 1332.22,461.73 1333.06,460.67C1333.91,459.61 1334.26,459.31 1335.11,459.65C1335.95,459.99 1336.18,460.91 1337.15,462.31C1338.12,463.70 1338.63,465.17 1339.81,466.40C1340.99,467.62 1341.61,468.03 1342.88,468.24C1344.14,468.45 1344.67,468.35 1345.94,467.42C1347.21,466.49 1347.53,464.58 1349.01,463.74C1350.49,462.89 1351.41,463.12 1353.10,463.33C1354.79,463.54 1355.50,463.92 1357.19,464.76C1358.88,465.61 1359.80,466.24 1361.28,467.42C1362.76,468.60 1363.29,469.85 1364.35,470.49C1365.40,471.12 1365.54,471.03 1366.39,470.49C1367.23,469.94 1367.69,468.72 1368.43,467.83C1369.18,466.93 1368.86,467.11 1370.00,466.16C1371.14,465.21 1372.51,464.03 1373.93,463.21C1375.35,462.40 1375.86,461.42 1376.88,462.23C1377.89,463.04 1378.03,465.23 1378.84,467.14C1379.65,469.05 1379.99,470.86 1380.80,471.46C1381.62,472.07 1381.83,472.61 1382.77,470.09C1383.70,467.57 1384.23,463.95 1385.32,459.29C1386.42,454.62 1386.98,450.83 1388.07,447.50C1389.17,444.17 1389.69,443.38 1390.62,443.18C1391.56,442.98 1391.78,444.61 1392.59,446.52C1393.40,448.43 1393.74,450.67 1394.55,452.41C1395.37,454.16 1395.58,455.09 1396.52,454.96C1397.45,454.84 1398.06,452.88 1399.07,451.82C1400.09,450.77 1400.33,450.06 1401.43,449.86C1402.52,449.65 1403.24,450.51 1404.38,450.84C1405.51,451.16 1405.91,452.12 1406.93,451.43C1407.94,450.74 1408.39,450.34 1409.29,447.50C1410.18,444.66 1410.52,441.74 1411.25,437.68C1411.98,433.62 1411.61,434.61 1412.82,427.86C1414.03,421.10 1415.49,410.67 1417.10,405.00C1418.71,399.33 1419.32,407.22 1420.60,400.40C1421.88,393.58 1422.27,390.52 1423.30,372.00C1424.33,353.48 1424.79,334.36 1425.60,310.80C1426.41,287.24 1426.19,272.01 1427.20,258.00C1428.21,243.99 1429.30,246.51 1430.50,243.00C1431.70,239.49 1431.86,239.76 1433.00,241.00C1434.14,242.24 1434.84,247.97 1436.00,249.00C1437.16,250.03 1437.84,247.78 1438.60,246.00C1439.36,244.22 1439.29,246.81 1439.70,240.40C1440.11,233.99 1440.12,227.28 1440.60,215.00C1441.08,202.72 1441.30,193.30 1442.00,181.00C1442.70,168.70 1443.19,163.42 1444.00,155.50C1444.81,147.58 1445.20,146.05 1445.90,142.70C1446.60,139.35 1446.76,139.30 1447.40,139.30C1448.04,139.30 1448.26,138.22 1449.00,142.70C1449.74,147.18 1450.17,150.75 1451.00,161.00C1451.83,171.25 1452.24,179.40 1453.00,192.30C1453.76,205.20 1454.06,213.17 1454.70,223.40C1455.34,233.63 1455.56,237.13 1456.10,241.80C1456.64,246.47 1456.82,246.29 1457.30,246.00C1457.78,245.71 1457.95,246.81 1458.40,240.40C1458.85,233.99 1459.02,229.03 1459.50,215.00C1459.98,200.97 1460.22,190.07 1460.70,172.50C1461.18,154.93 1461.43,143.66 1461.80,130.00C1462.17,116.34 1462.36,111.28 1462.50,106.40" fill="none" stroke="#ecba4f" stroke-width="1.4" stroke-linejoin="round" stroke-linecap="round"/>
<path d="M1352.00,493.67C1352.38,493.49 1352.88,495.56 1353.56,495.83C1354.24,496.10 1355.00,495.38 1355.90,495.22C1356.79,495.07 1357.68,494.97 1358.66,494.97C1359.65,494.97 1360.67,495.07 1361.52,495.22C1362.37,495.38 1362.95,496.10 1363.51,495.83C1364.07,495.56 1364.36,493.52 1364.72,493.67C1365.08,493.82 1364.93,495.88 1365.58,496.70C1366.24,497.51 1367.47,497.66 1368.44,498.34C1369.41,499.02 1370.80,499.92 1371.12,500.59C1371.44,501.25 1370.79,501.72 1370.26,502.15C1369.73,502.57 1368.43,502.34 1368.09,503.01C1367.76,503.68 1368.49,504.94 1368.35,505.95C1368.22,506.97 1367.74,508.09 1367.31,508.81C1366.89,509.52 1366.01,509.31 1365.93,510.02C1365.86,510.73 1366.79,511.80 1366.88,512.87C1366.97,513.95 1366.86,515.25 1366.45,516.16C1366.04,517.07 1365.00,517.08 1364.55,518.06C1364.09,519.05 1364.52,521.09 1363.85,521.78C1363.19,522.48 1361.38,522.44 1360.74,522.04C1360.10,521.65 1360.57,519.97 1360.22,519.53C1359.87,519.09 1359.08,519.09 1358.75,519.53C1358.42,519.97 1359.03,521.60 1358.32,522.04C1357.61,522.48 1355.47,522.40 1354.69,522.04C1353.90,521.68 1354.62,520.18 1353.82,519.97C1353.02,519.75 1350.25,521.07 1350.10,520.83C1349.95,520.59 1352.70,519.37 1352.96,518.58C1353.21,517.79 1351.89,517.26 1351.57,516.33C1351.25,515.41 1351.05,514.36 1351.14,513.30C1351.23,512.24 1352.30,511.03 1352.09,510.28C1351.88,509.52 1350.47,509.74 1349.93,508.98C1349.38,508.22 1349.11,507.00 1348.98,505.95C1348.84,504.91 1349.51,503.68 1349.15,503.01C1348.79,502.34 1347.47,502.54 1346.90,502.15C1346.32,501.75 1345.53,501.40 1345.86,500.76C1346.19,500.13 1347.83,499.19 1348.80,498.51C1349.77,497.83 1350.84,497.72 1351.40,496.87C1351.96,496.02 1351.62,493.85 1352.00,493.67Z" fill="#b4b4b4" opacity="0.93"/>
<text x="1376.7" y="513.8" font-size="19.6px" font-weight="700" fill="#bdbdbd" stroke="#bdbdbd" stroke-width="0.5" stroke-linejoin="round" textLength="79" lengthAdjust="spacingAndGlyphs">coinglass</text>
<line x1="103.9" x2="1457" y1="120" y2="120" stroke="#c4c5c8" stroke-width="1.7" stroke-dasharray="4.3 2.2105"/>
<line x1="1462.6" x2="1462.6" y1="97.5" y2="535.3" stroke="#a2a3a7" stroke-width="1.35" stroke-dasharray="4.3 2.2105"/>
<rect x="1185" y="146" width="260" height="122" rx="10" fill="#000" opacity="0.5" filter="url(#sh)"/>
<rect x="1193" y="149" width="246" height="108.5" rx="5" fill="#030409"/>
<text x="1211" y="176.5" font-size="16.2px" fill="#f4f4f6" stroke="#f4f4f6" stroke-width="0.3" textLength="126" lengthAdjust="spacingAndGlyphs">9 Oct 2025, 03:00</text>
<circle cx="1216.6" cy="205.7" r="4.6" fill="#ecba4f" stroke="#f1f1f1" stroke-width="1.6"/>
<text x="1226.5" y="211.3" font-size="15.8px" fill="#e4e5e8" textLength="70.5" lengthAdjust="spacingAndGlyphs">ZEC Price</text>
<text x="1422.3" y="211.3" font-size="15.8px" fill="#ffffff" stroke="#ffffff" stroke-width="0.3" text-anchor="end" textLength="57.5" lengthAdjust="spacingAndGlyphs">$176.80</text>
<circle cx="1216.6" cy="229.8" r="4.6" fill="#1fbf85" stroke="#f1f1f1" stroke-width="1.6"/>
<text x="1226.5" y="235.5" font-size="15.8px" fill="#e4e5e8" textLength="102.5" lengthAdjust="spacingAndGlyphs">Open Interest</text>
<text x="1422.3" y="235.5" font-size="15.8px" fill="#ffffff" stroke="#ffffff" stroke-width="0.3" text-anchor="end" textLength="71" lengthAdjust="spacingAndGlyphs">$237.62M</text>
<circle cx="1462.3" cy="106.3" r="4.85" fill="#ffffff" stroke="#ecba4f" stroke-width="2.5"/>
<circle cx="1462.3" cy="119.2" r="4.85" fill="#ffffff" stroke="#1fbf85" stroke-width="2.5"/>
<rect x="36" y="107.5" width="64.8" height="23.8" rx="3.5" fill="#000"/>
<text class="tag" x="44.2" y="123.6" textLength="48.2" lengthAdjust="spacingAndGlyphs">237.49M</text>
<rect x="1468.3" y="107.5" width="54.2" height="23.8" rx="3.5" fill="#000"/>
<text class="tag" x="1476.8" y="123.6" textLength="35.8" lengthAdjust="spacingAndGlyphs">172.31</text>
<path d="M106.75,609.00L113.50,608.50L121.00,607.50L128.50,607.25L138.50,607.50L148.50,606.75L158.50,606.25L168.50,606.00L176.00,606.00L183.50,605.25L189.75,604.25L193.50,601.25L196.50,600.25L199.75,601.25L203.50,601.50L207.25,602.50L211.00,602.50L214.75,603.00L218.50,605.00L223.50,605.50L228.50,606.00L233.50,605.50L238.50,604.75L242.25,604.00L246.00,604.75L251.00,605.25L257.25,606.00L263.50,605.25L268.50,603.50L271.00,602.50L274.75,603.25L278.50,603.25L283.50,604.25L288.00,603.25L292.25,604.50L296.00,605.00L300.50,604.50L303.00,601.25L305.50,598.50L308.50,599.50L312.25,601.25L316.00,601.75L319.75,600.50L322.25,599.50L324.00,593.75L325.50,589.50L327.25,591.25L329.75,589.25L331.50,592.50L333.00,596.25L336.00,597.50L339.75,596.25L343.50,593.00L346.00,594.50L349.00,593.25L352.25,596.75L354.75,593.75L357.25,590.00L360.50,587.00L362.25,588.00L364.75,583.75L367.75,577.00L370.50,580.00L373.00,585.50L375.50,581.25L378.50,580.00L381.00,572.00L382.75,570.50L384.75,573.75L386.50,575.00L388.50,582.50L390.50,592.50L392.25,598.75L394.00,593.00L397.25,592.50L399.25,590.75L401.50,593.75L404.00,596.25L407.25,594.25L410.50,595.00L413.00,598.75L415.50,598.00L418.00,596.25L421.00,597.50L426.00,598.75L431.00,601.25L436.00,599.50L441.00,597.50L446.00,594.50L449.75,593.00L452.25,593.00L455.25,591.25L458.50,593.00L461.00,592.50L462.75,590.00L464.25,594.50L467.25,595.50L469.75,594.25L473.50,597.50L477.25,598.75L480.00,598.00L483.75,596.25L487.50,597.50L491.25,593.75L495.50,589.50L497.50,592.50L500.50,590.75L503.75,590.00L507.50,585.75L510.50,593.00L513.00,585.00L515.00,576.75L517.50,579.50L520.00,582.00L522.00,588.75L525.00,590.00L528.75,593.00L532.50,591.25L536.25,590.50L538.75,593.00L541.25,592.50L543.75,594.25L547.50,593.75L550.50,595.00L553.75,599.50L556.25,601.25L560.00,600.00L565.00,595.50L567.50,597.50L570.50,597.00L573.75,599.50L577.50,598.75L580.00,597.00L582.50,598.75L585.00,593.00L588.00,592.50L591.25,590.00L593.75,588.00L596.25,585.75L598.75,587.50L601.75,588.75L604.25,591.25L606.25,591.25L608.00,594.25L610.50,593.00L613.00,592.00L616.25,591.75L618.75,595.00L622.00,597.50L625.00,599.50L627.50,602.00L630.50,598.75L633.75,599.50L637.50,601.25L641.25,600.75L645.00,600.50L648.00,602.00L651.25,605.00L655.00,605.00L658.00,604.50L661.25,606.25L665.00,605.50L668.75,605.75L672.50,604.50L676.25,605.00L680.00,605.50L683.75,604.50L688.75,602.50L692.50,603.25L695.50,605.00L700.00,604.50L705.00,605.00L710.00,605.00L715.00,606.25L720.00,605.75L726.25,606.25L732.50,606.50L740.00,606.25L748.75,606.50L752.00,608.25L757.50,608.00L763.75,607.50L770.00,607.25L776.25,607.75L783.75,608.25L791.25,607.50L798.75,607.00L806.25,607.25L815.00,607.50L820.00,606.50L826.25,607.75L832.50,608.75L840.00,608.50L847.50,608.25L857.50,607.75L864.00,608.25L879.00,608.50L894.00,610.00L909.00,608.75L924.00,609.50L939.00,610.00L964.00,610.25L989.00,609.75L1014.00,609.00L1029.00,609.25L1039.00,610.50L1059.00,610.75L1076.50,608.75L1089.00,609.25L1104.00,610.50L1119.00,610.25L1134.00,609.50L1146.50,610.50L1159.00,610.75L1166.50,609.00L1179.00,608.75L1184.00,607.50L1191.50,607.75L1199.00,609.00L1214.00,609.25L1224.00,608.25L1234.00,608.25L1245.77,607.73L1255.53,606.17L1261.39,603.44L1265.30,604.80L1271.16,606.76L1275.06,603.83L1278.97,605.78L1283.85,605.78L1288.73,606.76L1298.50,608.12L1306.31,609.30L1318.03,608.71L1329.75,609.30L1341.47,608.71L1353.19,609.30L1364.91,608.12L1376.62,606.76L1384.44,606.76L1392.25,607.73L1403.97,608.12L1415.69,607.73L1427.41,608.52L1439.12,607.73L1450.84,606.76L1458.66,605.78L1461.59,603.83L1463.54,600.31L1465.20,599.60L1467.80,599.20L1467.80,623.3L106.75,623.3Z" fill="#080d1e"/>
<path d="M106.75,609.00L113.50,608.50L121.00,607.50L128.50,607.25L138.50,607.50L148.50,606.75L158.50,606.25L168.50,606.00L176.00,606.00L183.50,605.25L189.75,604.25L193.50,601.25L196.50,600.25L199.75,601.25L203.50,601.50L207.25,602.50L211.00,602.50L214.75,603.00L218.50,605.00L223.50,605.50L228.50,606.00L233.50,605.50L238.50,604.75L242.25,604.00L246.00,604.75L251.00,605.25L257.25,606.00L263.50,605.25L268.50,603.50L271.00,602.50L274.75,603.25L278.50,603.25L283.50,604.25L288.00,603.25L292.25,604.50L296.00,605.00L300.50,604.50L303.00,601.25L305.50,598.50L308.50,599.50L312.25,601.25L316.00,601.75L319.75,600.50L322.25,599.50L324.00,593.75L325.50,589.50L327.25,591.25L329.75,589.25L331.50,592.50L333.00,596.25L336.00,597.50L339.75,596.25L343.50,593.00L346.00,594.50L349.00,593.25L352.25,596.75L354.75,593.75L357.25,590.00L360.50,587.00L362.25,588.00L364.75,583.75L367.75,577.00L370.50,580.00L373.00,585.50L375.50,581.25L378.50,580.00L381.00,572.00L382.75,570.50L384.75,573.75L386.50,575.00L388.50,582.50L390.50,592.50L392.25,598.75L394.00,593.00L397.25,592.50L399.25,590.75L401.50,593.75L404.00,596.25L407.25,594.25L410.50,595.00L413.00,598.75L415.50,598.00L418.00,596.25L421.00,597.50L426.00,598.75L431.00,601.25L436.00,599.50L441.00,597.50L446.00,594.50L449.75,593.00L452.25,593.00L455.25,591.25L458.50,593.00L461.00,592.50L462.75,590.00L464.25,594.50L467.25,595.50L469.75,594.25L473.50,597.50L477.25,598.75L480.00,598.00L483.75,596.25L487.50,597.50L491.25,593.75L495.50,589.50L497.50,592.50L500.50,590.75L503.75,590.00L507.50,585.75L510.50,593.00L513.00,585.00L515.00,576.75L517.50,579.50L520.00,582.00L522.00,588.75L525.00,590.00L528.75,593.00L532.50,591.25L536.25,590.50L538.75,593.00L541.25,592.50L543.75,594.25L547.50,593.75L550.50,595.00L553.75,599.50L556.25,601.25L560.00,600.00L565.00,595.50L567.50,597.50L570.50,597.00L573.75,599.50L577.50,598.75L580.00,597.00L582.50,598.75L585.00,593.00L588.00,592.50L591.25,590.00L593.75,588.00L596.25,585.75L598.75,587.50L601.75,588.75L604.25,591.25L606.25,591.25L608.00,594.25L610.50,593.00L613.00,592.00L616.25,591.75L618.75,595.00L622.00,597.50L625.00,599.50L627.50,602.00L630.50,598.75L633.75,599.50L637.50,601.25L641.25,600.75L645.00,600.50L648.00,602.00L651.25,605.00L655.00,605.00L658.00,604.50L661.25,606.25L665.00,605.50L668.75,605.75L672.50,604.50L676.25,605.00L680.00,605.50L683.75,604.50L688.75,602.50L692.50,603.25L695.50,605.00L700.00,604.50L705.00,605.00L710.00,605.00L715.00,606.25L720.00,605.75L726.25,606.25L732.50,606.50L740.00,606.25L748.75,606.50L752.00,608.25L757.50,608.00L763.75,607.50L770.00,607.25L776.25,607.75L783.75,608.25L791.25,607.50L798.75,607.00L806.25,607.25L815.00,607.50L820.00,606.50L826.25,607.75L832.50,608.75L840.00,608.50L847.50,608.25L857.50,607.75L864.00,608.25L879.00,608.50L894.00,610.00L909.00,608.75L924.00,609.50L939.00,610.00L964.00,610.25L989.00,609.75L1014.00,609.00L1029.00,609.25L1039.00,610.50L1059.00,610.75L1076.50,608.75L1089.00,609.25L1104.00,610.50L1119.00,610.25L1134.00,609.50L1146.50,610.50L1159.00,610.75L1166.50,609.00L1179.00,608.75L1184.00,607.50L1191.50,607.75L1199.00,609.00L1214.00,609.25L1224.00,608.25L1234.00,608.25L1245.77,607.73L1255.53,606.17L1261.39,603.44L1265.30,604.80L1271.16,606.76L1275.06,603.83L1278.97,605.78L1283.85,605.78L1288.73,606.76L1298.50,608.12L1306.31,609.30L1318.03,608.71L1329.75,609.30L1341.47,608.71L1353.19,609.30L1364.91,608.12L1376.62,606.76L1384.44,606.76L1392.25,607.73L1403.97,608.12L1415.69,607.73L1427.41,608.52L1439.12,607.73L1450.84,606.76L1458.66,605.78L1461.59,603.83L1463.54,600.31L1465.20,599.60L1467.80,599.20" fill="none" stroke="#2b4c94" stroke-width="1.1"/>
<rect x="1287.8" y="558" width="180" height="65.3" fill="#070b1d"/>
<g clip-path="url(#selc)"><path d="M106.75,609.00L113.50,608.50L121.00,607.50L128.50,607.25L138.50,607.50L148.50,606.75L158.50,606.25L168.50,606.00L176.00,606.00L183.50,605.25L189.75,604.25L193.50,601.25L196.50,600.25L199.75,601.25L203.50,601.50L207.25,602.50L211.00,602.50L214.75,603.00L218.50,605.00L223.50,605.50L228.50,606.00L233.50,605.50L238.50,604.75L242.25,604.00L246.00,604.75L251.00,605.25L257.25,606.00L263.50,605.25L268.50,603.50L271.00,602.50L274.75,603.25L278.50,603.25L283.50,604.25L288.00,603.25L292.25,604.50L296.00,605.00L300.50,604.50L303.00,601.25L305.50,598.50L308.50,599.50L312.25,601.25L316.00,601.75L319.75,600.50L322.25,599.50L324.00,593.75L325.50,589.50L327.25,591.25L329.75,589.25L331.50,592.50L333.00,596.25L336.00,597.50L339.75,596.25L343.50,593.00L346.00,594.50L349.00,593.25L352.25,596.75L354.75,593.75L357.25,590.00L360.50,587.00L362.25,588.00L364.75,583.75L367.75,577.00L370.50,580.00L373.00,585.50L375.50,581.25L378.50,580.00L381.00,572.00L382.75,570.50L384.75,573.75L386.50,575.00L388.50,582.50L390.50,592.50L392.25,598.75L394.00,593.00L397.25,592.50L399.25,590.75L401.50,593.75L404.00,596.25L407.25,594.25L410.50,595.00L413.00,598.75L415.50,598.00L418.00,596.25L421.00,597.50L426.00,598.75L431.00,601.25L436.00,599.50L441.00,597.50L446.00,594.50L449.75,593.00L452.25,593.00L455.25,591.25L458.50,593.00L461.00,592.50L462.75,590.00L464.25,594.50L467.25,595.50L469.75,594.25L473.50,597.50L477.25,598.75L480.00,598.00L483.75,596.25L487.50,597.50L491.25,593.75L495.50,589.50L497.50,592.50L500.50,590.75L503.75,590.00L507.50,585.75L510.50,593.00L513.00,585.00L515.00,576.75L517.50,579.50L520.00,582.00L522.00,588.75L525.00,590.00L528.75,593.00L532.50,591.25L536.25,590.50L538.75,593.00L541.25,592.50L543.75,594.25L547.50,593.75L550.50,595.00L553.75,599.50L556.25,601.25L560.00,600.00L565.00,595.50L567.50,597.50L570.50,597.00L573.75,599.50L577.50,598.75L580.00,597.00L582.50,598.75L585.00,593.00L588.00,592.50L591.25,590.00L593.75,588.00L596.25,585.75L598.75,587.50L601.75,588.75L604.25,591.25L606.25,591.25L608.00,594.25L610.50,593.00L613.00,592.00L616.25,591.75L618.75,595.00L622.00,597.50L625.00,599.50L627.50,602.00L630.50,598.75L633.75,599.50L637.50,601.25L641.25,600.75L645.00,600.50L648.00,602.00L651.25,605.00L655.00,605.00L658.00,604.50L661.25,606.25L665.00,605.50L668.75,605.75L672.50,604.50L676.25,605.00L680.00,605.50L683.75,604.50L688.75,602.50L692.50,603.25L695.50,605.00L700.00,604.50L705.00,605.00L710.00,605.00L715.00,606.25L720.00,605.75L726.25,606.25L732.50,606.50L740.00,606.25L748.75,606.50L752.00,608.25L757.50,608.00L763.75,607.50L770.00,607.25L776.25,607.75L783.75,608.25L791.25,607.50L798.75,607.00L806.25,607.25L815.00,607.50L820.00,606.50L826.25,607.75L832.50,608.75L840.00,608.50L847.50,608.25L857.50,607.75L864.00,608.25L879.00,608.50L894.00,610.00L909.00,608.75L924.00,609.50L939.00,610.00L964.00,610.25L989.00,609.75L1014.00,609.00L1029.00,609.25L1039.00,610.50L1059.00,610.75L1076.50,608.75L1089.00,609.25L1104.00,610.50L1119.00,610.25L1134.00,609.50L1146.50,610.50L1159.00,610.75L1166.50,609.00L1179.00,608.75L1184.00,607.50L1191.50,607.75L1199.00,609.00L1214.00,609.25L1224.00,608.25L1234.00,608.25L1245.77,607.73L1255.53,606.17L1261.39,603.44L1265.30,604.80L1271.16,606.76L1275.06,603.83L1278.97,605.78L1283.85,605.78L1288.73,606.76L1298.50,608.12L1306.31,609.30L1318.03,608.71L1329.75,609.30L1341.47,608.71L1353.19,609.30L1364.91,608.12L1376.62,606.76L1384.44,606.76L1392.25,607.73L1403.97,608.12L1415.69,607.73L1427.41,608.52L1439.12,607.73L1450.84,606.76L1458.66,605.78L1461.59,603.83L1463.54,600.31L1465.20,599.60L1467.80,599.20L1467.80,623.3L106.75,623.3Z" fill="#202a47"/><path d="M106.75,609.00L113.50,608.50L121.00,607.50L128.50,607.25L138.50,607.50L148.50,606.75L158.50,606.25L168.50,606.00L176.00,606.00L183.50,605.25L189.75,604.25L193.50,601.25L196.50,600.25L199.75,601.25L203.50,601.50L207.25,602.50L211.00,602.50L214.75,603.00L218.50,605.00L223.50,605.50L228.50,606.00L233.50,605.50L238.50,604.75L242.25,604.00L246.00,604.75L251.00,605.25L257.25,606.00L263.50,605.25L268.50,603.50L271.00,602.50L274.75,603.25L278.50,603.25L283.50,604.25L288.00,603.25L292.25,604.50L296.00,605.00L300.50,604.50L303.00,601.25L305.50,598.50L308.50,599.50L312.25,601.25L316.00,601.75L319.75,600.50L322.25,599.50L324.00,593.75L325.50,589.50L327.25,591.25L329.75,589.25L331.50,592.50L333.00,596.25L336.00,597.50L339.75,596.25L343.50,593.00L346.00,594.50L349.00,593.25L352.25,596.75L354.75,593.75L357.25,590.00L360.50,587.00L362.25,588.00L364.75,583.75L367.75,577.00L370.50,580.00L373.00,585.50L375.50,581.25L378.50,580.00L381.00,572.00L382.75,570.50L384.75,573.75L386.50,575.00L388.50,582.50L390.50,592.50L392.25,598.75L394.00,593.00L397.25,592.50L399.25,590.75L401.50,593.75L404.00,596.25L407.25,594.25L410.50,595.00L413.00,598.75L415.50,598.00L418.00,596.25L421.00,597.50L426.00,598.75L431.00,601.25L436.00,599.50L441.00,597.50L446.00,594.50L449.75,593.00L452.25,593.00L455.25,591.25L458.50,593.00L461.00,592.50L462.75,590.00L464.25,594.50L467.25,595.50L469.75,594.25L473.50,597.50L477.25,598.75L480.00,598.00L483.75,596.25L487.50,597.50L491.25,593.75L495.50,589.50L497.50,592.50L500.50,590.75L503.75,590.00L507.50,585.75L510.50,593.00L513.00,585.00L515.00,576.75L517.50,579.50L520.00,582.00L522.00,588.75L525.00,590.00L528.75,593.00L532.50,591.25L536.25,590.50L538.75,593.00L541.25,592.50L543.75,594.25L547.50,593.75L550.50,595.00L553.75,599.50L556.25,601.25L560.00,600.00L565.00,595.50L567.50,597.50L570.50,597.00L573.75,599.50L577.50,598.75L580.00,597.00L582.50,598.75L585.00,593.00L588.00,592.50L591.25,590.00L593.75,588.00L596.25,585.75L598.75,587.50L601.75,588.75L604.25,591.25L606.25,591.25L608.00,594.25L610.50,593.00L613.00,592.00L616.25,591.75L618.75,595.00L622.00,597.50L625.00,599.50L627.50,602.00L630.50,598.75L633.75,599.50L637.50,601.25L641.25,600.75L645.00,600.50L648.00,602.00L651.25,605.00L655.00,605.00L658.00,604.50L661.25,606.25L665.00,605.50L668.75,605.75L672.50,604.50L676.25,605.00L680.00,605.50L683.75,604.50L688.75,602.50L692.50,603.25L695.50,605.00L700.00,604.50L705.00,605.00L710.00,605.00L715.00,606.25L720.00,605.75L726.25,606.25L732.50,606.50L740.00,606.25L748.75,606.50L752.00,608.25L757.50,608.00L763.75,607.50L770.00,607.25L776.25,607.75L783.75,608.25L791.25,607.50L798.75,607.00L806.25,607.25L815.00,607.50L820.00,606.50L826.25,607.75L832.50,608.75L840.00,608.50L847.50,608.25L857.50,607.75L864.00,608.25L879.00,608.50L894.00,610.00L909.00,608.75L924.00,609.50L939.00,610.00L964.00,610.25L989.00,609.75L1014.00,609.00L1029.00,609.25L1039.00,610.50L1059.00,610.75L1076.50,608.75L1089.00,609.25L1104.00,610.50L1119.00,610.25L1134.00,609.50L1146.50,610.50L1159.00,610.75L1166.50,609.00L1179.00,608.75L1184.00,607.50L1191.50,607.75L1199.00,609.00L1214.00,609.25L1224.00,608.25L1234.00,608.25L1245.77,607.73L1255.53,606.17L1261.39,603.44L1265.30,604.80L1271.16,606.76L1275.06,603.83L1278.97,605.78L1283.85,605.78L1288.73,606.76L1298.50,608.12L1306.31,609.30L1318.03,608.71L1329.75,609.30L1341.47,608.71L1353.19,609.30L1364.91,608.12L1376.62,606.76L1384.44,606.76L1392.25,607.73L1403.97,608.12L1415.69,607.73L1427.41,608.52L1439.12,607.73L1450.84,606.76L1458.66,605.78L1461.59,603.83L1463.54,600.31L1465.20,599.60L1467.80,599.20" fill="none" stroke="#4468b4" stroke-width="1.2"/></g>
<rect x="1280.8" y="582.2" width="16" height="19" rx="5.5" fill="#32344a"/>
<rect x="1285.9" y="588" width="1.9" height="7.6" fill="#9c9ea8"/>
<rect x="1289.7" y="588" width="1.9" height="7.6" fill="#9c9ea8"/>
<rect x="1458.6" y="582.2" width="16" height="19" rx="5.5" fill="#32344a"/>
<rect x="1463.7" y="588" width="1.9" height="7.6" fill="#9c9ea8"/>
<rect x="1467.5" y="588" width="1.9" height="7.6" fill="#9c9ea8"/>
<rect x="1404" y="538.5" width="116" height="24.5" rx="3.5" fill="#000"/>
<text class="tag" x="1412.3" y="554.4" textLength="100.5" lengthAdjust="spacingAndGlyphs">9 Oct 2025, 03:00</text>
<rect x="1530" y="597.5" width="10" height="26.5" rx="3" fill="#5f6064"/>
</svg>
</body></html>
